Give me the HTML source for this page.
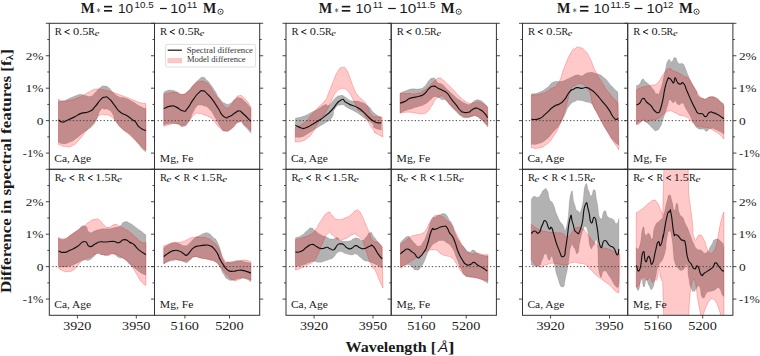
<!DOCTYPE html><html><head><meta charset="utf-8"><style>html,body{margin:0;padding:0;background:#fff;width:760px;height:356px;overflow:hidden}svg{display:block}text{font-family:"Liberation Serif",serif;fill:#1a1a1a}</style></head><body>
<svg width="760" height="356" viewBox="0 0 760 356">
<clipPath id="c000"><rect x="49.3" y="23.3" width="105.2" height="146"/></clipPath>
<g clip-path="url(#c000)">
<path d="M58.48,99.01 C59.97,99.62 59.13,101.15 62.95,100.83 C66.76,100.5 65.27,99.9 69.92,98.04 C74.57,96.18 73.17,96.46 76.89,95.25 C80.61,94.04 78.29,94.32 81.08,94.41 C83.87,94.5 82.01,94.92 85.26,95.53 C88.52,96.13 87.59,97.15 90.84,96.22 C94.1,95.29 91.77,95.76 95.03,92.74 C98.28,89.71 97.35,89.39 100.6,87.16 C103.86,84.93 102,85.81 104.79,86.04 C107.58,86.27 106.18,85.72 108.97,87.85 C111.76,89.99 109.9,89.53 113.16,92.46 C116.41,95.39 114.55,94.69 118.74,96.64 C122.92,98.59 121.06,96.6 125.71,98.32 C130.36,100.04 128.03,99.25 132.68,101.8 C137.33,104.36 135.24,103.66 139.66,105.99 C144.07,108.31 143.84,107.85 145.93,108.78 L145.93,151.84 C144.77,150.91 145,151.84 142.44,149.05 C139.89,146.26 141.52,147.42 138.26,143.47 C135.01,139.52 136.4,140.92 132.68,137.2 C128.96,133.48 130.82,135.34 127.1,132.32 C123.38,129.29 125.24,131.62 121.52,128.13 C117.81,124.64 118.97,126.68 115.95,121.85 C112.92,117.03 114.78,117.55 112.46,113.66 C110.13,109.76 111.53,111.66 108.97,110.17 C106.42,108.68 107.58,109.19 104.79,109.19 C102,109.19 103.39,106.65 100.6,110.17 C97.81,113.69 99.21,114.47 96.42,119.76 C93.63,125.05 95.03,122.78 92.24,126.04 C89.45,129.29 90.84,127.43 88.05,129.53 C85.26,131.62 87.59,129.53 83.87,132.32 C80.15,135.1 81.54,134.64 76.89,137.89 C72.25,141.15 74.57,140.13 69.92,142.08 C65.27,144.03 66.76,143.75 62.95,143.75 C59.13,143.75 59.97,142.64 58.48,142.08 Z" fill="#000" fill-opacity="0.3" stroke="#000" stroke-opacity="0.18" stroke-width="0.6"/>
<path d="M58.48,101.8 C62.3,101.34 63.78,101.57 69.92,100.41 C76.06,99.25 72.25,100.17 76.89,98.32 C81.54,96.46 79.22,97.25 83.87,94.83 C88.52,92.41 87.12,92.92 90.84,91.06 C94.56,89.2 92.24,89.85 95.03,89.25 C97.81,88.65 95.95,89.02 99.21,89.25 C102.46,89.48 100.6,89.02 104.79,89.95 C108.97,90.88 107.11,90.55 111.76,92.04 C116.41,93.53 114.09,92.78 118.74,94.41 C123.38,96.04 121.06,95.15 125.71,96.92 C130.36,98.69 128.03,97.85 132.68,99.71 C137.33,101.57 135.24,101.2 139.66,102.5 C144.07,103.8 143.84,103.24 145.93,103.62 L145.93,149.75 C144.77,148.82 145.47,149.52 142.44,146.96 C139.42,144.4 141.05,146.03 136.87,142.08 C132.68,138.13 134.54,139.29 129.89,135.1 C125.24,130.92 127.57,134.17 122.92,129.53 C118.27,124.88 120.13,125.57 115.95,121.16 C111.76,116.74 114.09,118.37 110.37,116.28 C106.65,114.18 108.51,115.11 104.79,114.88 C101.07,114.65 102.93,113.02 99.21,115.58 C95.49,118.14 97.81,117.67 93.63,122.55 C89.45,127.43 91.31,124.64 86.66,130.22 C82.01,135.8 84.33,134.17 79.68,139.29 C75.03,144.4 77.36,143.15 72.71,145.56 C68.06,147.98 70.48,146.87 65.74,146.54 C60.99,146.22 60.9,145.24 58.48,144.59 Z" fill="#ff0000" fill-opacity="0.21" stroke="#ff0000" stroke-opacity="0.3" stroke-width="0.8"/>
<line x1="52.3" y1="120.63" x2="154.5" y2="120.63" stroke="#444" stroke-width="1" stroke-dasharray="1.3,2.12"/>
<path d="M58.48,119.93 C59.74,120.63 59.83,121.7 62.25,122.03 C64.67,122.35 61.78,122.54 65.74,120.91 C69.69,119.28 68.99,119.65 74.1,117.14 C79.22,114.63 75.96,115.24 81.08,113.38 C86.19,111.52 84.8,113.8 89.45,111.56 C94.1,109.33 91.31,110.64 95.03,106.68 C98.74,102.73 97.35,102.87 100.6,99.71 C103.86,96.55 102,97.57 104.79,97.2 C107.58,96.83 105.72,95.9 108.97,98.59 C112.23,101.29 110.83,100.83 114.55,105.29 C118.27,109.75 115.95,108.5 120.13,111.98 C124.31,115.47 122.92,113.1 127.1,115.75 C131.29,118.4 129.89,117.9 132.68,119.93 C135.47,121.97 133.15,119.35 135.47,121.85 C137.8,124.36 136.17,124.5 139.66,127.43 C143.14,130.36 143.84,129.57 145.93,130.64" fill="none" stroke="#111" stroke-width="1.15" stroke-linejoin="round"/>
</g>
<rect x="49.3" y="23.3" width="105.2" height="146" fill="none" stroke="#333" stroke-width="1"/>
<line x1="49.3" y1="153.08" x2="45.8" y2="153.08" stroke="#333" stroke-width="0.9"/>
<line x1="49.3" y1="136.86" x2="47.3" y2="136.86" stroke="#333" stroke-width="0.9"/>
<line x1="49.3" y1="120.63" x2="45.8" y2="120.63" stroke="#333" stroke-width="0.9"/>
<line x1="49.3" y1="104.41" x2="47.3" y2="104.41" stroke="#333" stroke-width="0.9"/>
<line x1="49.3" y1="88.19" x2="45.8" y2="88.19" stroke="#333" stroke-width="0.9"/>
<line x1="49.3" y1="71.97" x2="47.3" y2="71.97" stroke="#333" stroke-width="0.9"/>
<line x1="49.3" y1="55.74" x2="45.8" y2="55.74" stroke="#333" stroke-width="0.9"/>
<line x1="49.3" y1="39.52" x2="47.3" y2="39.52" stroke="#333" stroke-width="0.9"/>
<line x1="49.3" y1="23.3" x2="45.8" y2="23.3" stroke="#333" stroke-width="0.9"/>
<text x="54.89" y="34.8" font-size="10.6" textLength="7.12" lengthAdjust="spacingAndGlyphs" style="font-family:'Liberation Serif',serif;font-weight:normal;font-style:normal">R</text>
<path d="M69.7,29.5 L64.7,31.85 L69.7,34.2" fill="none" stroke="#1a1a1a" stroke-width="1.0" stroke-linejoin="round"/>
<text x="73.03" y="34.8" font-size="10.6" textLength="15.45" lengthAdjust="spacingAndGlyphs" style="font-family:'Liberation Serif',serif;font-weight:normal;font-style:normal">0.5</text>
<text x="88.21" y="34.8" font-size="10.6" textLength="6.6" lengthAdjust="spacingAndGlyphs" style="font-family:'Liberation Serif',serif;font-weight:normal;font-style:normal">R</text>
<text x="94.68" y="36" font-size="9" textLength="4.66" lengthAdjust="spacingAndGlyphs" style="font-family:'Liberation Serif',serif;font-weight:normal;font-style:italic">e</text>
<text x="54.24" y="162" font-size="10.6" textLength="36.95" lengthAdjust="spacingAndGlyphs" style="font-family:'Liberation Serif',serif;font-weight:normal;font-style:normal">Ca, Age</text>
<clipPath id="c001"><rect x="154.5" y="23.3" width="105.2" height="146"/></clipPath>
<g clip-path="url(#c001)">
<path d="M163.76,92.64 C164.69,92.04 164,91.67 166.55,90.83 C169.11,89.99 168.18,89.9 171.43,90.13 C174.69,90.36 172.83,90.13 176.32,91.53 C179.8,92.92 178.17,94.32 181.89,94.32 C185.61,94.32 183.75,94.55 187.47,91.53 C191.19,88.5 189.33,89.2 193.05,85.25 C196.77,81.3 195.38,82.32 198.63,79.67 C201.88,77.02 200.03,77.07 202.81,77.3 C205.6,77.53 204.21,77.72 207,80.37 C209.79,83.02 208.39,81.53 211.18,85.25 C213.97,88.97 212.58,87.11 215.37,91.53 C218.16,95.94 216.3,94.55 219.55,98.5 C222.81,102.45 221.64,101.75 225.13,103.38 C228.62,105.01 226.76,104.78 230.01,103.38 C233.27,101.99 231.87,101.06 234.89,99.2 C237.91,97.34 235.82,97.1 239.08,97.8 C242.33,98.5 240.7,97.8 244.66,101.29 C248.61,104.78 248.84,105.94 250.93,108.26 L250.93,133.29 C248.84,130.96 248.61,130.03 244.66,126.32 C240.7,122.6 243.73,121.2 239.08,122.13 C234.43,123.06 235.13,126.08 230.71,129.1 C226.29,132.13 229.08,131.66 225.83,131.2 C222.57,130.73 224.43,132.13 220.95,127.71 C217.46,123.29 219.09,123.99 215.37,117.95 C211.65,111.9 213.51,113.53 209.79,109.58 C206.07,105.63 207.46,107.58 204.21,106.09 C200.95,104.6 202.35,105.12 200.03,105.12 C197.7,105.12 199.56,103.67 197.24,106.09 C194.91,108.51 195.84,107.25 193.05,112.37 C190.26,117.48 192.12,116.69 188.87,121.43 C185.61,126.18 187.01,125.66 183.29,126.59 C179.57,127.52 181.89,125.25 177.71,124.22 C173.53,123.2 175.39,123.29 170.74,123.53 C166.09,123.76 166.09,124.46 163.76,124.92 Z" fill="#000" fill-opacity="0.3" stroke="#000" stroke-opacity="0.18" stroke-width="0.6"/>
<path d="M163.76,94.32 C166.09,93.76 166.55,93.2 170.74,92.64 C174.92,92.08 172.13,92.08 176.32,92.64 C180.5,93.2 179.1,94.92 183.29,94.32 C187.47,93.71 185.15,94.08 188.87,90.83 C192.59,87.57 190.73,87.67 194.45,84.55 C198.17,81.44 196.31,82.18 200.03,81.48 C203.74,80.79 202.35,80.97 205.6,82.46 C208.86,83.95 207,82.46 209.79,85.95 C212.58,89.43 210.72,88.27 213.97,92.92 C217.23,97.57 215.6,95.01 219.55,99.89 C223.5,104.78 222.34,105.47 225.83,107.56 C229.31,109.66 226.99,108.73 230.01,106.17 C233.03,103.61 231.87,103.38 234.89,99.89 C237.91,96.41 235.82,96.17 239.08,95.71 C242.33,95.25 240.7,94.78 244.66,98.5 C248.61,102.22 248.84,104.08 250.93,106.87 L250.93,130.5 C248.84,128.64 248.61,127.94 244.66,124.92 C240.7,121.9 243.26,120.27 239.08,121.43 C234.89,122.6 236.75,125.29 232.1,128.41 C227.45,131.52 229.31,131.01 225.13,130.78 C220.95,130.55 223.27,131.06 219.55,127.71 C215.83,124.36 217.23,124.22 213.97,120.74 C210.72,117.25 213.04,119.2 209.79,117.25 C206.53,115.3 207.7,116.13 204.21,114.88 C200.72,113.62 202.58,113.62 199.33,113.48 C196.07,113.34 197.93,112.04 194.45,114.46 C190.96,116.88 192.59,117.25 188.87,120.74 C185.15,124.22 187.47,123.99 183.29,124.92 C179.1,125.85 180.96,123.62 176.32,123.53 C171.67,123.43 173.53,123.71 169.34,124.64 C165.16,125.57 165.62,125.76 163.76,126.32 Z" fill="#ff0000" fill-opacity="0.21" stroke="#ff0000" stroke-opacity="0.3" stroke-width="0.8"/>
<line x1="157.5" y1="120.63" x2="259.7" y2="120.63" stroke="#444" stroke-width="1" stroke-dasharray="1.3,2.12"/>
<path d="M163.76,108.54 C166.09,107.75 166.55,106.64 170.74,106.17 C174.92,105.71 172.13,105.52 176.32,107.15 C180.5,108.77 179.57,110.68 183.29,111.05 C187.01,111.42 184.22,111.98 187.47,108.26 C190.73,104.54 189.33,105.01 193.05,99.89 C196.77,94.78 195.38,95.94 198.63,92.92 C201.88,89.9 200.03,90.6 202.81,90.83 C205.6,91.06 203.74,90.6 207,93.62 C210.25,96.64 208.86,95.01 212.58,99.89 C216.3,104.78 214.44,102.71 218.16,108.26 C221.88,113.81 220.02,113.79 223.74,116.55 C227.45,119.32 225.59,117.71 229.31,116.55 C233.03,115.39 231.64,114.93 234.89,113.07 C238.15,111.21 236.29,110.74 239.08,110.97 C241.87,111.21 239.31,110.28 243.26,113.76 C247.21,117.25 248.37,118.88 250.93,121.43" fill="none" stroke="#111" stroke-width="1.15" stroke-linejoin="round"/>
</g>
<rect x="154.5" y="23.3" width="105.2" height="146" fill="none" stroke="#333" stroke-width="1"/>
<line x1="154.5" y1="153.08" x2="151" y2="153.08" stroke="#333" stroke-width="0.9"/>
<line x1="154.5" y1="136.86" x2="152.5" y2="136.86" stroke="#333" stroke-width="0.9"/>
<line x1="154.5" y1="120.63" x2="151" y2="120.63" stroke="#333" stroke-width="0.9"/>
<line x1="154.5" y1="104.41" x2="152.5" y2="104.41" stroke="#333" stroke-width="0.9"/>
<line x1="154.5" y1="88.19" x2="151" y2="88.19" stroke="#333" stroke-width="0.9"/>
<line x1="154.5" y1="71.97" x2="152.5" y2="71.97" stroke="#333" stroke-width="0.9"/>
<line x1="154.5" y1="55.74" x2="151" y2="55.74" stroke="#333" stroke-width="0.9"/>
<line x1="154.5" y1="39.52" x2="152.5" y2="39.52" stroke="#333" stroke-width="0.9"/>
<line x1="154.5" y1="23.3" x2="151" y2="23.3" stroke="#333" stroke-width="0.9"/>
<line x1="259.7" y1="153.08" x2="263.2" y2="153.08" stroke="#333" stroke-width="0.9"/>
<line x1="259.7" y1="136.86" x2="261.7" y2="136.86" stroke="#333" stroke-width="0.9"/>
<line x1="259.7" y1="120.63" x2="263.2" y2="120.63" stroke="#333" stroke-width="0.9"/>
<line x1="259.7" y1="104.41" x2="261.7" y2="104.41" stroke="#333" stroke-width="0.9"/>
<line x1="259.7" y1="88.19" x2="263.2" y2="88.19" stroke="#333" stroke-width="0.9"/>
<line x1="259.7" y1="71.97" x2="261.7" y2="71.97" stroke="#333" stroke-width="0.9"/>
<line x1="259.7" y1="55.74" x2="263.2" y2="55.74" stroke="#333" stroke-width="0.9"/>
<line x1="259.7" y1="39.52" x2="261.7" y2="39.52" stroke="#333" stroke-width="0.9"/>
<line x1="259.7" y1="23.3" x2="263.2" y2="23.3" stroke="#333" stroke-width="0.9"/>
<text x="160.09" y="34.8" font-size="10.6" textLength="7.12" lengthAdjust="spacingAndGlyphs" style="font-family:'Liberation Serif',serif;font-weight:normal;font-style:normal">R</text>
<path d="M174.9,29.5 L169.9,31.85 L174.9,34.2" fill="none" stroke="#1a1a1a" stroke-width="1.0" stroke-linejoin="round"/>
<text x="178.23" y="34.8" font-size="10.6" textLength="15.45" lengthAdjust="spacingAndGlyphs" style="font-family:'Liberation Serif',serif;font-weight:normal;font-style:normal">0.5</text>
<text x="193.41" y="34.8" font-size="10.6" textLength="6.6" lengthAdjust="spacingAndGlyphs" style="font-family:'Liberation Serif',serif;font-weight:normal;font-style:normal">R</text>
<text x="199.88" y="36" font-size="9" textLength="4.66" lengthAdjust="spacingAndGlyphs" style="font-family:'Liberation Serif',serif;font-weight:normal;font-style:italic">e</text>
<text x="159.86" y="162" font-size="10.6" textLength="33.64" lengthAdjust="spacingAndGlyphs" style="font-family:'Liberation Serif',serif;font-weight:normal;font-style:normal">Mg, Fe</text>
<clipPath id="c010"><rect x="49.3" y="169.3" width="105.2" height="146"/></clipPath>
<g clip-path="url(#c010)">
<path d="M58.48,238.47 C60.44,238.71 60.53,240.1 64.34,239.17 C68.15,238.24 65.74,238.47 69.92,235.68 C74.1,232.89 72.01,234.06 76.89,230.8 C81.78,227.55 80.38,225.46 84.56,225.92 C88.75,226.39 85.96,230.57 89.45,232.2 C92.93,233.82 91.77,231.73 95.03,230.8 C98.28,229.87 95.95,230.1 99.21,229.41 C102.46,228.71 101.07,228.94 104.79,228.71 C108.51,228.48 106.65,229.17 110.37,228.71 C114.09,228.25 112.69,228.25 115.95,227.32 C119.2,226.39 117.34,227.69 120.13,225.92 C122.92,224.15 121.06,222.95 124.31,222.02 C127.57,221.09 126.64,221.83 129.89,223.13 C133.15,224.43 130.82,223.6 134.08,225.92 C137.33,228.25 135.7,227.08 139.66,230.1 C143.61,233.13 143.84,233.36 145.93,234.99 L145.93,274.99 C144.3,274.29 144.54,274.99 141.05,272.89 C137.56,270.8 139.19,271.5 135.47,268.71 C131.75,265.92 133.61,267.78 129.89,264.53 C126.17,261.27 128.03,261.27 124.31,258.95 C120.59,256.62 122.45,259.18 118.74,257.55 C115.02,255.93 116.88,254.9 113.16,254.07 C109.44,253.23 111.3,254.81 107.58,255.04 C103.86,255.27 105.25,255.32 102,254.76 C98.74,254.21 100.6,252.67 97.81,253.37 C95.03,254.07 96.65,254.53 93.63,256.85 C90.61,259.18 92,259.27 88.75,260.34 C85.49,261.41 87.82,259.13 83.87,260.06 C79.92,260.99 81.54,261.18 76.89,263.13 C72.25,265.08 74.57,264.62 69.92,265.92 C65.27,267.22 66.76,267.04 62.95,267.04 C59.13,267.04 59.97,266.29 58.48,265.92 Z" fill="#000" fill-opacity="0.3" stroke="#000" stroke-opacity="0.18" stroke-width="0.6"/>
<path d="M58.48,237.5 C60.44,237.91 60.53,239.45 64.34,238.75 C68.15,238.05 65.74,238.05 69.92,235.4 C74.1,232.75 72.01,234.06 76.89,230.8 C81.78,227.55 80.38,228.66 84.56,225.64 C88.75,222.62 85.96,223.83 89.45,221.74 C92.93,219.64 91.77,219.92 95.03,219.37 C98.28,218.81 95.95,217.97 99.21,220.06 C102.46,222.15 101.53,223.22 104.79,225.64 C108.04,228.06 105.72,227.69 108.97,227.32 C112.23,226.94 111.3,224.99 114.55,224.53 C117.81,224.06 115.48,224.53 118.74,225.92 C121.99,227.32 120.59,226.62 124.31,228.71 C128.03,230.8 126.17,229.41 129.89,232.2 C133.61,234.99 131.75,233.82 135.47,237.08 C139.19,240.33 137.56,240.1 141.05,241.96 C144.54,243.82 144.3,242.42 145.93,242.66 L145.93,285.45 C144.3,284.05 144.54,285.68 141.05,281.26 C137.56,276.85 139.19,278.24 135.47,272.2 C131.75,266.15 133.61,267.55 129.89,263.13 C126.17,258.71 128.03,261.5 124.31,258.95 C120.59,256.39 122.45,257.23 118.74,255.46 C115.02,253.69 116.88,253.65 113.16,253.65 C109.44,253.65 111.3,255.18 107.58,255.46 C103.86,255.74 105.72,255.09 102,254.48 C98.28,253.88 100.14,252.86 96.42,253.65 C92.7,254.44 94.56,255.09 90.84,256.85 C87.12,258.62 88.98,256.85 85.26,258.95 C81.54,261.04 83.4,259.64 79.68,263.13 C75.96,266.62 77.82,266.62 74.1,269.41 C70.39,272.2 72.25,271.03 68.53,271.5 C64.81,271.96 66.29,271.96 62.95,270.8 C59.6,269.64 59.97,268.94 58.48,268.01 Z" fill="#ff0000" fill-opacity="0.21" stroke="#ff0000" stroke-opacity="0.3" stroke-width="0.8"/>
<line x1="52.3" y1="266.63" x2="154.5" y2="266.63" stroke="#444" stroke-width="1" stroke-dasharray="1.3,2.12"/>
<path d="M58.48,251.03 C60.44,251.49 60.53,252.65 64.34,252.42 C68.15,252.19 65.74,252.19 69.92,250.33 C74.1,248.47 72.01,249.77 76.89,246.84 C81.78,243.91 80.38,241.68 84.56,241.54 C88.75,241.4 85.96,245.59 89.45,246.42 C92.93,247.26 91.77,245.54 95.03,244.05 C98.28,242.56 95.95,242.66 99.21,241.96 C102.46,241.26 101.07,242.1 104.79,241.96 C108.51,241.82 107.11,241.68 110.37,241.54 C113.62,241.4 111.76,241.17 114.55,241.54 C117.34,241.91 115.48,243.31 118.74,242.66 C121.99,242.01 120.59,239.68 124.31,239.59 C128.03,239.5 126.64,240.66 129.89,242.38 C133.15,244.1 131.29,242.42 134.08,244.75 C136.87,247.07 134.31,246.01 138.26,249.35 C142.21,252.69 143.37,252.96 145.93,254.76" fill="none" stroke="#111" stroke-width="1.15" stroke-linejoin="round"/>
</g>
<rect x="49.3" y="169.3" width="105.2" height="146" fill="none" stroke="#333" stroke-width="1"/>
<line x1="49.3" y1="299.08" x2="45.8" y2="299.08" stroke="#333" stroke-width="0.9"/>
<line x1="49.3" y1="282.86" x2="47.3" y2="282.86" stroke="#333" stroke-width="0.9"/>
<line x1="49.3" y1="266.63" x2="45.8" y2="266.63" stroke="#333" stroke-width="0.9"/>
<line x1="49.3" y1="250.41" x2="47.3" y2="250.41" stroke="#333" stroke-width="0.9"/>
<line x1="49.3" y1="234.19" x2="45.8" y2="234.19" stroke="#333" stroke-width="0.9"/>
<line x1="49.3" y1="217.97" x2="47.3" y2="217.97" stroke="#333" stroke-width="0.9"/>
<line x1="49.3" y1="201.74" x2="45.8" y2="201.74" stroke="#333" stroke-width="0.9"/>
<line x1="49.3" y1="185.52" x2="47.3" y2="185.52" stroke="#333" stroke-width="0.9"/>
<line x1="49.3" y1="169.3" x2="45.8" y2="169.3" stroke="#333" stroke-width="0.9"/>
<line x1="77.4" y1="315.3" x2="77.4" y2="318.5" stroke="#333" stroke-width="0.9"/>
<text x="63.23" y="329.6" font-size="11.5" textLength="28.21" lengthAdjust="spacingAndGlyphs" style="font-family:'Liberation Serif',serif;font-weight:normal;font-style:normal">3920</text>
<line x1="136.3" y1="315.3" x2="136.3" y2="318.5" stroke="#333" stroke-width="0.9"/>
<text x="122.13" y="329.6" font-size="11.5" textLength="28.21" lengthAdjust="spacingAndGlyphs" style="font-family:'Liberation Serif',serif;font-weight:normal;font-style:normal">3950</text>
<text x="54.8" y="180.8" font-size="10.6" textLength="7.02" lengthAdjust="spacingAndGlyphs" style="font-family:'Liberation Serif',serif;font-weight:normal;font-style:normal">R</text>
<text x="61.36" y="182" font-size="9" textLength="4.89" lengthAdjust="spacingAndGlyphs" style="font-family:'Liberation Serif',serif;font-weight:normal;font-style:italic">e</text>
<path d="M74.3,175.5 L69.7,177.85 L74.3,180.2" fill="none" stroke="#1a1a1a" stroke-width="1.0" stroke-linejoin="round"/>
<text x="78.21" y="180.8" font-size="10.6" textLength="6.6" lengthAdjust="spacingAndGlyphs" style="font-family:'Liberation Serif',serif;font-weight:normal;font-style:normal">R</text>
<path d="M92.7,175.5 L88.1,177.85 L92.7,180.2" fill="none" stroke="#1a1a1a" stroke-width="1.0" stroke-linejoin="round"/>
<text x="95.34" y="180.8" font-size="10.6" textLength="15.14" lengthAdjust="spacingAndGlyphs" style="font-family:'Liberation Serif',serif;font-weight:normal;font-style:normal">1.5</text>
<text x="110.71" y="180.8" font-size="10.6" textLength="6.7" lengthAdjust="spacingAndGlyphs" style="font-family:'Liberation Serif',serif;font-weight:normal;font-style:normal">R</text>
<text x="117.05" y="182" font-size="9" textLength="5" lengthAdjust="spacingAndGlyphs" style="font-family:'Liberation Serif',serif;font-weight:normal;font-style:italic">e</text>
<text x="54.24" y="308" font-size="10.6" textLength="36.95" lengthAdjust="spacingAndGlyphs" style="font-family:'Liberation Serif',serif;font-weight:normal;font-style:normal">Ca, Age</text>
<clipPath id="c011"><rect x="154.5" y="169.3" width="105.2" height="146"/></clipPath>
<g clip-path="url(#c011)">
<path d="M163.76,247.89 C165.16,246.96 164.69,246.73 167.95,245.1 C171.2,243.48 169.81,243.48 173.53,243.01 C177.25,242.55 175.39,242.78 179.1,243.71 C182.82,244.64 181.43,245.8 184.68,245.8 C187.94,245.8 185.61,246.27 188.87,243.71 C192.12,241.15 190.73,240.92 194.45,238.13 C198.17,235.34 196.77,236.97 200.03,235.34 C203.28,233.71 201.42,233.95 204.21,233.25 C207,232.55 205.6,232.09 208.39,233.25 C211.18,234.41 209.32,233.25 212.58,236.74 C215.83,240.22 214.44,235.8 218.16,243.71 C221.88,251.62 220.48,254.41 223.74,260.46 C226.99,266.51 224.66,261.62 227.92,261.85 C231.17,262.09 229.78,261.62 233.5,261.16 C237.22,260.69 235.36,260.23 239.08,260.46 C242.8,260.69 240.7,260.93 244.66,261.85 C248.61,262.78 248.84,262.78 250.93,263.25 L250.93,281.8 C248.84,280.73 248.61,279.66 244.66,278.59 C240.7,277.52 242.8,278.13 239.08,278.59 C235.36,279.06 237.22,279.75 233.5,279.99 C229.78,280.22 231.17,281.15 227.92,279.29 C224.66,277.43 226.52,278.59 223.74,274.41 C220.95,270.22 222.34,270.92 219.55,266.74 C216.76,262.55 218.62,264.09 215.37,261.85 C212.11,259.62 214.44,261.2 209.79,260.04 C205.14,258.88 206.53,259.39 201.42,258.37 C196.31,257.35 198.17,256.51 194.45,256.97 C190.73,257.44 192.82,257.81 190.26,259.76 C187.71,261.72 188.87,262.13 186.78,262.83 C184.68,263.53 186.54,262.65 183.99,261.85 C181.43,261.06 182.59,260.93 179.1,260.46 C175.62,260 177.25,260 173.53,260.46 C169.81,260.93 171.2,260.69 167.95,261.85 C164.69,263.02 165.16,263.25 163.76,263.95 Z" fill="#000" fill-opacity="0.3" stroke="#000" stroke-opacity="0.18" stroke-width="0.6"/>
<path d="M163.76,245.8 C165.16,245.34 164.69,245.57 167.95,244.41 C171.2,243.25 169.81,243.01 173.53,242.32 C177.25,241.62 175.39,242.78 179.1,242.32 C182.82,241.85 180.96,242.32 184.68,240.92 C188.4,239.53 187.01,239.29 190.26,238.13 C193.52,236.97 190.73,237.67 194.45,237.43 C198.17,237.2 197.24,237.2 201.42,237.43 C205.6,237.67 203.28,236.74 207,238.13 C210.72,239.53 208.86,238.36 212.58,241.62 C216.3,244.87 214.44,242.08 218.16,247.89 C221.88,253.71 220.48,254.18 223.74,259.07 C226.99,263.95 224.66,261.39 227.92,262.55 C231.17,263.71 229.78,263.02 233.5,262.55 C237.22,262.09 235.36,261.99 239.08,261.16 C242.8,260.32 240.7,259.81 244.66,260.04 C248.61,260.27 248.84,261.25 250.93,261.85 L250.93,279.99 C248.84,279.29 248.61,278.13 244.66,277.89 C240.7,277.66 242.8,278.45 239.08,279.29 C235.36,280.13 237.22,281.57 233.5,280.4 C229.78,279.24 231.17,278.96 227.92,275.8 C224.66,272.64 226.52,274.41 223.74,270.92 C220.95,267.43 222.34,268.36 219.55,265.34 C216.76,262.32 218.62,263.71 215.37,261.85 C212.11,260 214.44,261.02 209.79,259.76 C205.14,258.51 206.53,259.11 201.42,258.09 C196.31,257.07 198.17,256.37 194.45,256.69 C190.73,257.02 193.52,257.67 190.26,259.07 C187.01,260.46 188.4,260.55 184.68,260.88 C180.96,261.2 182.82,260.65 179.1,260.04 C175.39,259.44 177.25,258.69 173.53,259.07 C169.81,259.44 171.2,259.53 167.95,261.16 C164.69,262.78 165.16,263.02 163.76,263.95 Z" fill="#ff0000" fill-opacity="0.21" stroke="#ff0000" stroke-opacity="0.3" stroke-width="0.8"/>
<line x1="157.5" y1="266.63" x2="259.7" y2="266.63" stroke="#444" stroke-width="1" stroke-dasharray="1.3,2.12"/>
<path d="M163.76,256.54 C165.16,255.52 164.69,255.43 167.95,253.47 C171.2,251.52 169.81,251.52 173.53,250.68 C177.25,249.85 175.85,250.03 179.1,250.96 C182.36,251.89 180.73,252.08 183.29,253.47 C185.85,254.87 184.45,255.84 186.78,255.15 C189.1,254.45 187.71,254.03 190.26,251.38 C192.82,248.73 191.19,249.06 194.45,247.2 C197.7,245.34 196.31,246.5 200.03,245.8 C203.74,245.1 202.35,245.1 205.6,245.1 C208.86,245.1 207,244.64 209.79,245.8 C212.58,246.96 211.18,245.57 213.97,248.59 C216.76,251.61 216.3,251.61 218.16,254.87 C220.02,258.13 217.69,254.88 219.55,258.37 C221.41,261.86 220.95,261.39 223.74,265.34 C226.52,269.29 224.66,268.27 227.92,270.22 C231.17,272.18 229.78,271.2 233.5,271.2 C237.22,271.2 235.36,270.32 239.08,270.22 C242.8,270.13 240.7,269.99 244.66,270.92 C248.61,271.85 248.84,272.32 250.93,273.01" fill="none" stroke="#111" stroke-width="1.15" stroke-linejoin="round"/>
</g>
<rect x="154.5" y="169.3" width="105.2" height="146" fill="none" stroke="#333" stroke-width="1"/>
<line x1="154.5" y1="299.08" x2="151" y2="299.08" stroke="#333" stroke-width="0.9"/>
<line x1="154.5" y1="282.86" x2="152.5" y2="282.86" stroke="#333" stroke-width="0.9"/>
<line x1="154.5" y1="266.63" x2="151" y2="266.63" stroke="#333" stroke-width="0.9"/>
<line x1="154.5" y1="250.41" x2="152.5" y2="250.41" stroke="#333" stroke-width="0.9"/>
<line x1="154.5" y1="234.19" x2="151" y2="234.19" stroke="#333" stroke-width="0.9"/>
<line x1="154.5" y1="217.97" x2="152.5" y2="217.97" stroke="#333" stroke-width="0.9"/>
<line x1="154.5" y1="201.74" x2="151" y2="201.74" stroke="#333" stroke-width="0.9"/>
<line x1="154.5" y1="185.52" x2="152.5" y2="185.52" stroke="#333" stroke-width="0.9"/>
<line x1="154.5" y1="169.3" x2="151" y2="169.3" stroke="#333" stroke-width="0.9"/>
<line x1="259.7" y1="299.08" x2="263.2" y2="299.08" stroke="#333" stroke-width="0.9"/>
<line x1="259.7" y1="282.86" x2="261.7" y2="282.86" stroke="#333" stroke-width="0.9"/>
<line x1="259.7" y1="266.63" x2="263.2" y2="266.63" stroke="#333" stroke-width="0.9"/>
<line x1="259.7" y1="250.41" x2="261.7" y2="250.41" stroke="#333" stroke-width="0.9"/>
<line x1="259.7" y1="234.19" x2="263.2" y2="234.19" stroke="#333" stroke-width="0.9"/>
<line x1="259.7" y1="217.97" x2="261.7" y2="217.97" stroke="#333" stroke-width="0.9"/>
<line x1="259.7" y1="201.74" x2="263.2" y2="201.74" stroke="#333" stroke-width="0.9"/>
<line x1="259.7" y1="185.52" x2="261.7" y2="185.52" stroke="#333" stroke-width="0.9"/>
<line x1="259.7" y1="169.3" x2="263.2" y2="169.3" stroke="#333" stroke-width="0.9"/>
<line x1="184.9" y1="315.3" x2="184.9" y2="318.5" stroke="#333" stroke-width="0.9"/>
<text x="170.58" y="329.6" font-size="11.5" textLength="28.36" lengthAdjust="spacingAndGlyphs" style="font-family:'Liberation Serif',serif;font-weight:normal;font-style:normal">5160</text>
<line x1="229.5" y1="315.3" x2="229.5" y2="318.5" stroke="#333" stroke-width="0.9"/>
<text x="215.18" y="329.6" font-size="11.5" textLength="28.36" lengthAdjust="spacingAndGlyphs" style="font-family:'Liberation Serif',serif;font-weight:normal;font-style:normal">5200</text>
<text x="160" y="180.8" font-size="10.6" textLength="7.02" lengthAdjust="spacingAndGlyphs" style="font-family:'Liberation Serif',serif;font-weight:normal;font-style:normal">R</text>
<text x="166.56" y="182" font-size="9" textLength="4.89" lengthAdjust="spacingAndGlyphs" style="font-family:'Liberation Serif',serif;font-weight:normal;font-style:italic">e</text>
<path d="M179.5,175.5 L174.9,177.85 L179.5,180.2" fill="none" stroke="#1a1a1a" stroke-width="1.0" stroke-linejoin="round"/>
<text x="183.41" y="180.8" font-size="10.6" textLength="6.6" lengthAdjust="spacingAndGlyphs" style="font-family:'Liberation Serif',serif;font-weight:normal;font-style:normal">R</text>
<path d="M197.9,175.5 L193.3,177.85 L197.9,180.2" fill="none" stroke="#1a1a1a" stroke-width="1.0" stroke-linejoin="round"/>
<text x="200.54" y="180.8" font-size="10.6" textLength="15.14" lengthAdjust="spacingAndGlyphs" style="font-family:'Liberation Serif',serif;font-weight:normal;font-style:normal">1.5</text>
<text x="215.91" y="180.8" font-size="10.6" textLength="6.7" lengthAdjust="spacingAndGlyphs" style="font-family:'Liberation Serif',serif;font-weight:normal;font-style:normal">R</text>
<text x="222.25" y="182" font-size="9" textLength="5" lengthAdjust="spacingAndGlyphs" style="font-family:'Liberation Serif',serif;font-weight:normal;font-style:italic">e</text>
<text x="159.86" y="308" font-size="10.6" textLength="33.64" lengthAdjust="spacingAndGlyphs" style="font-family:'Liberation Serif',serif;font-weight:normal;font-style:normal">Mg, Fe</text>
<clipPath id="c100"><rect x="286" y="23.3" width="105.2" height="146"/></clipPath>
<g clip-path="url(#c100)">
<path d="M295.33,118.14 C298.23,117.44 298.79,117.91 304.03,116.04 C309.26,114.17 306.36,114.87 311.04,112.53 C315.71,110.19 313.38,111.6 318.05,109.03 C322.73,106.45 321.41,106.06 325.06,104.82 C328.71,103.58 325.72,107.41 329,105.3 C332.28,103.19 331.13,101.73 334.9,98.5 C338.67,95.27 336.93,96.13 340.3,95.6 C343.67,95.07 341.77,95.37 345,96.9 C348.23,98.43 346.63,98.8 350,100.2 C353.37,101.6 351.7,100.53 355.1,101.1 C358.5,101.67 355.9,100.27 360.2,101.9 C364.5,103.53 363.3,102.3 368,106 C372.7,109.7 369.87,109.23 374.3,113 C378.73,116.77 378.97,115.87 381.3,117.3 L381.28,129.88 C378.95,129.18 377.21,129.83 374.27,127.78 C371.33,125.72 375.4,126.69 372.47,123.71 C369.55,120.73 369.68,121.85 365.5,118.83 C361.31,115.81 363.64,117.2 359.92,114.64 C356.2,112.09 358.52,113.48 354.34,111.16 C350.16,108.83 351.78,109.76 347.37,107.67 C342.95,105.58 345.27,104.42 341.09,104.88 C336.91,105.35 337.82,104.88 334.81,109.07 C331.81,113.25 335.33,112.78 332.08,117.44 C328.83,122.1 329.74,119.78 325.06,123.05 C320.39,126.32 322.26,124.69 318.05,127.26 C313.84,129.83 316.18,128.43 312.44,130.76 C308.7,133.1 310.57,132.17 306.83,134.27 C303.09,136.37 305.05,136.14 301.22,137.08 C297.39,138.01 297.29,137.08 295.33,137.08 Z" fill="#000" fill-opacity="0.3" stroke="#000" stroke-opacity="0.18" stroke-width="0.6"/>
<path d="M295.33,127.26 C298.23,125.86 298.79,127.02 304.03,123.05 C309.26,119.08 306.36,120.48 311.04,115.34 C315.71,110.19 313.38,112.53 318.05,107.62 C322.73,102.71 321.87,104.68 325.06,100.61 C328.26,96.54 325.1,101.35 327.64,95.4 C330.19,89.45 329.33,90.76 332.7,82.76 C336.07,74.75 334.6,76.43 337.76,71.38 C340.92,66.32 339.23,68.01 342.18,67.59 C345.13,67.16 343.87,66.32 346.61,70.11 C349.34,73.91 347.87,72.64 350.4,78.96 C352.93,85.28 351.66,83.6 354.19,89.08 C356.72,94.56 355.03,91.61 357.98,95.4 C360.93,99.19 360.09,97.25 363.04,100.46 C365.99,103.66 364.02,100.25 366.83,105.01 C369.64,109.77 368.05,110.84 371.47,114.73 C374.88,118.63 373.57,115.95 377.08,116.7 C380.58,117.45 380.35,116.88 381.98,116.98 L382.93,136.96 C380.37,135.56 378.15,134.67 375.26,132.78 C372.37,130.88 376.47,134.59 374.27,131.28 C372.07,127.98 372.4,128.95 368.66,122.87 C364.92,116.79 366.27,117.01 363.05,113.05 C359.83,109.09 361.18,113.02 359,111 C356.82,108.98 358.07,110.03 356.5,107 C354.93,103.97 355.9,105.27 354.3,101.9 C352.7,98.53 353.4,100 351.7,96.9 C350,93.8 351.17,95.13 349.2,92.6 C347.23,90.07 347.9,90.7 345.8,89.3 C343.7,87.9 344.87,88.47 342.9,88.4 C340.93,88.33 342.03,87.97 339.9,89.1 C337.77,90.23 338.73,89.2 336.5,91.8 C334.27,94.4 335.7,92.17 333.2,96.9 C330.7,101.63 331.71,100.56 329,106 C326.29,111.44 328.71,107.55 325.06,113.23 C321.41,118.92 322.26,116.51 318.05,123.05 C313.84,129.6 316.18,127.73 312.44,132.87 C308.7,138.01 310.57,135.67 306.83,138.48 C303.09,141.28 305.05,140.11 301.22,141.28 C297.39,142.45 297.29,141.75 295.33,141.98 Z" fill="#ff0000" fill-opacity="0.21" stroke="#ff0000" stroke-opacity="0.3" stroke-width="0.8"/>
<line x1="289" y1="120.63" x2="391.2" y2="120.63" stroke="#444" stroke-width="1" stroke-dasharray="1.3,2.12"/>
<path d="M295.33,125.15 C297.29,126.09 297.85,127.02 301.22,127.96 C304.59,128.89 302.16,128.89 305.43,127.96 C308.7,127.02 306.83,127.49 311.04,125.15 C315.25,122.82 313.38,123.99 318.05,120.95 C322.73,117.91 320.39,119.78 325.06,116.04 C329.74,112.3 326.89,115.02 332.08,109.73 C337.26,104.43 335.9,102.55 340.61,100.15 C345.32,97.75 342.48,100.8 346.22,102.53 C349.96,104.26 348.09,103.7 351.83,105.34 C355.57,106.97 353.7,105.34 357.44,107.44 C361.18,109.54 359.31,108.38 363.05,111.65 C366.79,114.92 364.92,113.99 368.66,117.26 C372.4,120.53 371,119.6 374.27,121.47 C377.54,123.34 376.14,122.49 378.48,122.87 C380.82,123.24 380.35,122.68 381.28,122.59" fill="none" stroke="#111" stroke-width="1.15" stroke-linejoin="round"/>
</g>
<rect x="286" y="23.3" width="105.2" height="146" fill="none" stroke="#333" stroke-width="1"/>
<line x1="286" y1="153.08" x2="282.5" y2="153.08" stroke="#333" stroke-width="0.9"/>
<line x1="286" y1="136.86" x2="284" y2="136.86" stroke="#333" stroke-width="0.9"/>
<line x1="286" y1="120.63" x2="282.5" y2="120.63" stroke="#333" stroke-width="0.9"/>
<line x1="286" y1="104.41" x2="284" y2="104.41" stroke="#333" stroke-width="0.9"/>
<line x1="286" y1="88.19" x2="282.5" y2="88.19" stroke="#333" stroke-width="0.9"/>
<line x1="286" y1="71.97" x2="284" y2="71.97" stroke="#333" stroke-width="0.9"/>
<line x1="286" y1="55.74" x2="282.5" y2="55.74" stroke="#333" stroke-width="0.9"/>
<line x1="286" y1="39.52" x2="284" y2="39.52" stroke="#333" stroke-width="0.9"/>
<line x1="286" y1="23.3" x2="282.5" y2="23.3" stroke="#333" stroke-width="0.9"/>
<text x="291.59" y="34.8" font-size="10.6" textLength="7.12" lengthAdjust="spacingAndGlyphs" style="font-family:'Liberation Serif',serif;font-weight:normal;font-style:normal">R</text>
<path d="M306.4,29.5 L301.4,31.85 L306.4,34.2" fill="none" stroke="#1a1a1a" stroke-width="1.0" stroke-linejoin="round"/>
<text x="309.73" y="34.8" font-size="10.6" textLength="15.45" lengthAdjust="spacingAndGlyphs" style="font-family:'Liberation Serif',serif;font-weight:normal;font-style:normal">0.5</text>
<text x="324.91" y="34.8" font-size="10.6" textLength="6.6" lengthAdjust="spacingAndGlyphs" style="font-family:'Liberation Serif',serif;font-weight:normal;font-style:normal">R</text>
<text x="331.38" y="36" font-size="9" textLength="4.66" lengthAdjust="spacingAndGlyphs" style="font-family:'Liberation Serif',serif;font-weight:normal;font-style:italic">e</text>
<text x="290.94" y="162" font-size="10.6" textLength="36.95" lengthAdjust="spacingAndGlyphs" style="font-family:'Liberation Serif',serif;font-weight:normal;font-style:normal">Ca, Age</text>
<clipPath id="c101"><rect x="391.2" y="23.3" width="105.2" height="146"/></clipPath>
<g clip-path="url(#c101)">
<path d="M400.12,92.89 C402.46,91.99 403,91.54 407.13,90.19 C411.26,88.85 408.48,89.3 412.52,88.85 C416.56,88.4 415.22,89.74 419.26,88.85 C423.3,87.95 421.5,88.85 424.65,86.15 C427.79,83.46 426,83.46 428.69,80.76 C431.39,78.06 430.49,78.51 432.74,78.06 C434.98,77.62 433.63,77.84 435.43,79.41 C437.23,80.98 435.73,81.01 438.13,82.78 C440.52,84.56 439.25,82.22 442.62,84.74 C445.99,87.27 444.49,86.8 448.24,90.36 C451.98,93.92 450.11,92.23 453.85,95.42 C457.6,98.6 455.73,97.29 459.47,99.91 C463.22,102.53 461.72,101.78 465.09,103.28 C468.46,104.78 466.96,104.89 469.58,104.4 C472.21,103.92 470.71,103.32 472.96,101.82 C475.2,100.32 474.08,100.43 476.33,99.91 C478.57,99.39 477.45,99.5 479.7,100.25 C481.94,101 480.82,100.4 483.07,102.16 C485.31,103.92 484.94,103.77 486.44,105.53 C487.94,107.29 487.19,106.8 487.56,107.44 L487.84,127.17 C486.72,125.82 486.95,125.82 484.47,123.13 C482,120.43 483.13,121.33 480.43,119.08 C477.74,116.84 479.08,117.29 476.39,116.39 C473.69,115.49 475.49,115.94 472.35,116.39 C469.2,116.84 470.55,117.74 466.95,117.74 C463.36,117.74 465.16,118.41 461.56,116.39 C457.97,114.37 459.77,115.04 456.17,111.67 C452.58,108.3 454.38,110.1 450.78,106.28 C447.19,102.46 448.26,102.43 445.39,100.22 C442.52,98 444.59,100.5 442.17,99.63 C439.75,98.76 440.82,98.5 438.13,97.61 C435.43,96.71 436.78,96.03 434.08,96.93 C431.39,97.83 433.19,97.83 430.04,100.3 C426.9,102.77 428.24,102.32 424.65,104.35 C421.06,106.37 423.3,105.02 419.26,106.37 C415.22,107.71 417.01,107.04 412.52,108.39 C408.03,109.74 409.91,108.84 405.78,110.41 C401.65,111.98 402.01,112.21 400.12,113.11 Z" fill="#000" fill-opacity="0.3" stroke="#000" stroke-opacity="0.18" stroke-width="0.6"/>
<path d="M400.12,93.56 C402.91,93.56 403,93.56 408.48,93.56 C413.96,93.56 411.17,94.69 416.56,93.56 C421.95,92.44 420.16,92.89 424.65,90.19 C429.14,87.5 426.45,88.85 430.04,85.48 C433.63,82.11 432.29,82.56 435.43,80.09 C438.58,77.62 437.08,78.2 439.47,78.06 C441.87,77.93 439.7,77.46 442.62,79.69 C445.54,81.91 444.49,81.18 448.24,84.74 C451.98,88.3 450.11,86.43 453.85,90.36 C457.6,94.29 455.73,92.98 459.47,96.54 C463.22,100.1 461.72,98.79 465.09,101.03 C468.46,103.28 466.96,102.53 469.58,103.28 C472.21,104.03 470.71,103.66 472.96,103.28 C475.2,102.91 474.08,102.53 476.33,102.16 C478.57,101.78 477.45,101.6 479.7,102.16 C481.94,102.72 480.45,102.23 483.07,103.84 C485.69,105.45 486.06,105.94 487.56,106.99 L487.84,125.15 C486.72,124.03 486.95,124.03 484.47,121.78 C482,119.53 483.13,120.43 480.43,118.41 C477.74,116.39 479.08,116.61 476.39,115.71 C473.69,114.82 475.49,115.27 472.35,115.71 C469.2,116.16 470.55,117.29 466.95,117.06 C463.36,116.84 465.16,117.29 461.56,115.04 C457.97,112.79 459.77,113.69 456.17,110.32 C452.58,106.95 455,109.4 450.78,104.93 C446.56,100.47 447.29,99.6 443.52,96.93 C439.75,94.27 442.17,96.03 439.47,96.93 C436.78,97.83 438.13,96.48 435.43,99.63 C432.74,102.77 434.08,102.32 431.39,106.37 C428.69,110.41 430.49,109.29 427.35,111.76 C424.2,114.23 426,113.33 421.95,113.78 C417.91,114.23 419.71,113.64 415.22,113.11 C410.72,112.57 413.51,112.16 408.48,112.16 C403.45,112.16 402.91,112.79 400.12,113.11 Z" fill="#ff0000" fill-opacity="0.21" stroke="#ff0000" stroke-opacity="0.3" stroke-width="0.8"/>
<line x1="394.2" y1="120.63" x2="496.4" y2="120.63" stroke="#444" stroke-width="1" stroke-dasharray="1.3,2.12"/>
<path d="M400.12,103.27 C402.01,102.5 403,102.41 405.78,100.98 C408.57,99.54 406.23,100.08 408.48,98.95 C410.72,97.83 408.93,98.5 412.52,97.61 C416.11,96.71 415.22,97.61 419.26,96.26 C423.3,94.91 421.5,96.03 424.65,93.56 C427.79,91.09 425.77,91.32 428.69,88.85 C431.61,86.38 430.27,86.38 433.41,86.15 C436.55,85.93 435.21,86.82 438.13,88.17 C441.05,89.52 439.17,88.53 442.17,90.19 C445.17,91.86 443.97,90.12 447.11,93.17 C450.26,96.22 448.61,95.42 451.61,99.35 C454.6,103.28 453.1,101.22 456.1,104.97 C459.1,108.71 457.97,108.15 460.6,110.58 C463.22,113.02 461.34,111.71 463.97,112.27 C466.59,112.83 465.84,113.02 468.46,112.27 C471.08,111.52 469.4,111.41 471.83,110.02 C474.27,108.64 473.14,108.3 475.76,108.11 C478.39,107.93 476.89,107.89 479.7,109.46 C482.51,111.03 481.57,110.13 484.19,112.83 C486.81,115.53 486.44,115.98 487.56,117.55" fill="none" stroke="#111" stroke-width="1.15" stroke-linejoin="round"/>
</g>
<rect x="391.2" y="23.3" width="105.2" height="146" fill="none" stroke="#333" stroke-width="1"/>
<line x1="391.2" y1="153.08" x2="387.7" y2="153.08" stroke="#333" stroke-width="0.9"/>
<line x1="391.2" y1="136.86" x2="389.2" y2="136.86" stroke="#333" stroke-width="0.9"/>
<line x1="391.2" y1="120.63" x2="387.7" y2="120.63" stroke="#333" stroke-width="0.9"/>
<line x1="391.2" y1="104.41" x2="389.2" y2="104.41" stroke="#333" stroke-width="0.9"/>
<line x1="391.2" y1="88.19" x2="387.7" y2="88.19" stroke="#333" stroke-width="0.9"/>
<line x1="391.2" y1="71.97" x2="389.2" y2="71.97" stroke="#333" stroke-width="0.9"/>
<line x1="391.2" y1="55.74" x2="387.7" y2="55.74" stroke="#333" stroke-width="0.9"/>
<line x1="391.2" y1="39.52" x2="389.2" y2="39.52" stroke="#333" stroke-width="0.9"/>
<line x1="391.2" y1="23.3" x2="387.7" y2="23.3" stroke="#333" stroke-width="0.9"/>
<line x1="496.4" y1="153.08" x2="499.9" y2="153.08" stroke="#333" stroke-width="0.9"/>
<line x1="496.4" y1="136.86" x2="498.4" y2="136.86" stroke="#333" stroke-width="0.9"/>
<line x1="496.4" y1="120.63" x2="499.9" y2="120.63" stroke="#333" stroke-width="0.9"/>
<line x1="496.4" y1="104.41" x2="498.4" y2="104.41" stroke="#333" stroke-width="0.9"/>
<line x1="496.4" y1="88.19" x2="499.9" y2="88.19" stroke="#333" stroke-width="0.9"/>
<line x1="496.4" y1="71.97" x2="498.4" y2="71.97" stroke="#333" stroke-width="0.9"/>
<line x1="496.4" y1="55.74" x2="499.9" y2="55.74" stroke="#333" stroke-width="0.9"/>
<line x1="496.4" y1="39.52" x2="498.4" y2="39.52" stroke="#333" stroke-width="0.9"/>
<line x1="496.4" y1="23.3" x2="499.9" y2="23.3" stroke="#333" stroke-width="0.9"/>
<text x="396.79" y="34.8" font-size="10.6" textLength="7.12" lengthAdjust="spacingAndGlyphs" style="font-family:'Liberation Serif',serif;font-weight:normal;font-style:normal">R</text>
<path d="M411.6,29.5 L406.6,31.85 L411.6,34.2" fill="none" stroke="#1a1a1a" stroke-width="1.0" stroke-linejoin="round"/>
<text x="414.93" y="34.8" font-size="10.6" textLength="15.45" lengthAdjust="spacingAndGlyphs" style="font-family:'Liberation Serif',serif;font-weight:normal;font-style:normal">0.5</text>
<text x="430.11" y="34.8" font-size="10.6" textLength="6.6" lengthAdjust="spacingAndGlyphs" style="font-family:'Liberation Serif',serif;font-weight:normal;font-style:normal">R</text>
<text x="436.58" y="36" font-size="9" textLength="4.66" lengthAdjust="spacingAndGlyphs" style="font-family:'Liberation Serif',serif;font-weight:normal;font-style:italic">e</text>
<text x="396.56" y="162" font-size="10.6" textLength="33.64" lengthAdjust="spacingAndGlyphs" style="font-family:'Liberation Serif',serif;font-weight:normal;font-style:normal">Mg, Fe</text>
<clipPath id="c110"><rect x="286" y="169.3" width="105.2" height="146"/></clipPath>
<g clip-path="url(#c110)">
<path d="M295.48,237.66 C297.44,236.96 297.53,237.89 301.34,235.56 C305.15,233.24 303.67,233.24 306.92,230.68 C310.17,228.13 308.32,227.89 311.1,227.89 C313.89,227.89 312.03,228.36 315.29,230.68 C318.54,233.01 317.15,232.78 320.87,234.87 C324.59,236.96 322.73,235.56 326.45,236.96 C330.17,238.35 328.31,238.82 332.03,239.05 C335.74,239.28 334.95,237.2 337.6,237.66 C340.26,238.12 336.21,239.32 340,240.43 C343.79,241.54 344.49,241.55 348.99,240.99 C353.48,240.43 350.49,239.68 353.48,238.74 C356.48,237.81 354.98,237.62 357.98,238.18 C360.97,238.74 359.85,240.61 362.47,240.43 C365.09,240.24 363.22,240.24 365.84,237.62 C368.46,235 367.72,232.94 370.34,232.56 C372.96,232.19 371.09,233.31 373.71,236.49 C376.33,239.68 375.39,238.74 378.2,242.11 C381.01,245.48 380.82,245.11 382.13,246.61 L382.13,267.96 C380.82,267.21 381.01,267.21 378.2,265.71 C375.39,264.21 377.08,264.88 373.71,263.46 C370.34,262.04 371.09,262.37 368.09,261.44 C365.09,260.5 367.34,262.04 364.72,260.65 C362.1,259.27 363.22,259.53 360.22,257.28 C357.23,255.03 358.35,254.66 355.73,253.91 C353.11,253.16 354.61,254.85 352.36,255.03 C350.11,255.22 351.61,255.03 348.99,254.47 C346.37,253.91 346.89,254.22 344.49,253.35 C342.09,252.48 344.08,252.12 341.79,251.85 C339.49,251.59 340.39,250.69 337.6,252.55 C334.81,254.41 336.21,255.11 333.42,257.43 C330.63,259.76 332.03,258.36 329.24,259.53 C326.45,260.69 328.31,259.99 325.05,260.92 C321.8,261.85 323.19,262.08 319.47,262.32 C315.75,262.55 317.15,261.62 313.89,261.62 C310.64,261.62 313.43,261.15 309.71,262.32 C305.99,263.48 307.48,263.71 302.74,265.1 C297.99,266.5 297.9,266.03 295.48,266.5 Z" fill="#000" fill-opacity="0.3" stroke="#000" stroke-opacity="0.18" stroke-width="0.6"/>
<path d="M295.48,239.75 C297.9,239.05 297.99,239.28 302.74,237.66 C307.48,236.03 305.53,237.42 309.71,234.87 C313.89,232.31 311.57,234.64 315.29,229.99 C319.01,225.34 316.68,226.73 320.87,220.92 C325.05,215.11 324.12,214.41 327.84,212.55 C331.56,210.69 328.77,213.02 332.03,215.34 C335.28,217.67 332.7,218.87 337.6,219.53 C342.51,220.18 342.2,218.98 346.74,217.3 C351.29,215.63 348.24,216.74 351.24,214.49 C354.23,212.25 353.11,211.69 355.73,210.56 C358.35,209.44 356.85,209.06 359.1,211.12 C361.35,213.18 360.22,212.25 362.47,216.74 C364.72,221.24 363.6,219.36 365.84,224.61 C368.09,229.85 366.97,227.23 369.21,232.47 C371.46,237.72 369.59,236.94 372.58,240.34 C375.58,243.74 375.02,240.4 378.2,242.67 C381.39,244.95 380.82,245.67 382.13,247.17 L382.93,287.98 C381.77,285.47 381.77,285.77 379.44,280.45 C377.12,275.12 378.24,276.54 375.96,272 C373.67,267.46 374.83,270.8 372.58,266.83 C370.34,262.86 371.09,264.58 369.21,260.09 C367.34,255.6 368.46,257.84 366.97,253.35 C365.47,248.85 366.22,250.91 364.72,246.61 C363.22,242.3 363.97,243.45 362.47,240.43 C360.97,237.4 362.1,239.24 360.22,237.53 C358.35,235.81 359.1,236.4 356.85,235.28 C354.61,234.16 357.58,232.9 353.48,234.16 C349.39,235.41 349.41,237.19 344.58,239.05 C339.75,240.92 342.25,240.45 339,239.75 C335.74,239.05 337.14,238.59 334.81,236.96 C332.49,235.33 334.35,236.03 332.03,234.87 C329.7,233.71 331.33,229.9 327.84,233.47 C324.35,237.04 324.82,238.75 321.56,245.58 C318.31,252.4 320.64,248.83 318.08,253.95 C315.52,259.06 317.61,257.2 313.89,260.92 C310.17,264.64 311.57,262.55 306.92,265.1 C302.27,267.66 303.76,266.96 299.95,268.59 C296.13,270.22 296.97,269.52 295.48,269.99 Z" fill="#ff0000" fill-opacity="0.21" stroke="#ff0000" stroke-opacity="0.3" stroke-width="0.8"/>
<line x1="289" y1="266.63" x2="391.2" y2="266.63" stroke="#444" stroke-width="1" stroke-dasharray="1.3,2.12"/>
<path d="M295.48,252.27 C297.44,251.9 297.53,252.92 301.34,251.16 C305.15,249.39 303.43,249.21 306.92,246.97 C310.41,244.74 308.78,244.7 311.8,244.46 C314.82,244.23 313.2,244.97 315.99,246.28 C318.78,247.58 317.38,247.76 320.17,248.37 C322.96,248.97 322.03,248.46 324.35,248.09 C326.68,247.72 325.05,246.93 327.14,247.25 C329.24,247.58 328.31,248.32 330.63,249.07 C332.95,249.81 331.79,250.88 334.12,249.48 C336.44,248.09 335.28,246.74 337.6,244.88 C339.93,243.02 339,243.91 341.09,243.91 C343.18,243.91 341.79,243.49 343.88,244.88 C345.97,246.28 344.81,246.93 347.37,248.09 C349.92,249.25 348.76,249.21 351.55,248.37 C354.34,247.53 352.95,245.81 355.74,245.58 C358.52,245.35 357.13,246.65 359.92,247.67 C362.71,248.69 360.85,249.11 364.1,248.65 C367.36,248.18 366.66,247.07 369.68,246.28 C372.7,245.49 370.38,243.72 373.17,246.28 C375.96,248.83 375.03,249.76 378.05,253.95 C381.07,258.13 380.84,257.2 382.23,258.83" fill="none" stroke="#111" stroke-width="1.15" stroke-linejoin="round"/>
</g>
<rect x="286" y="169.3" width="105.2" height="146" fill="none" stroke="#333" stroke-width="1"/>
<line x1="286" y1="299.08" x2="282.5" y2="299.08" stroke="#333" stroke-width="0.9"/>
<line x1="286" y1="282.86" x2="284" y2="282.86" stroke="#333" stroke-width="0.9"/>
<line x1="286" y1="266.63" x2="282.5" y2="266.63" stroke="#333" stroke-width="0.9"/>
<line x1="286" y1="250.41" x2="284" y2="250.41" stroke="#333" stroke-width="0.9"/>
<line x1="286" y1="234.19" x2="282.5" y2="234.19" stroke="#333" stroke-width="0.9"/>
<line x1="286" y1="217.97" x2="284" y2="217.97" stroke="#333" stroke-width="0.9"/>
<line x1="286" y1="201.74" x2="282.5" y2="201.74" stroke="#333" stroke-width="0.9"/>
<line x1="286" y1="185.52" x2="284" y2="185.52" stroke="#333" stroke-width="0.9"/>
<line x1="286" y1="169.3" x2="282.5" y2="169.3" stroke="#333" stroke-width="0.9"/>
<line x1="314.1" y1="315.3" x2="314.1" y2="318.5" stroke="#333" stroke-width="0.9"/>
<text x="299.93" y="329.6" font-size="11.5" textLength="28.21" lengthAdjust="spacingAndGlyphs" style="font-family:'Liberation Serif',serif;font-weight:normal;font-style:normal">3920</text>
<line x1="373" y1="315.3" x2="373" y2="318.5" stroke="#333" stroke-width="0.9"/>
<text x="358.82" y="329.6" font-size="11.5" textLength="28.21" lengthAdjust="spacingAndGlyphs" style="font-family:'Liberation Serif',serif;font-weight:normal;font-style:normal">3950</text>
<text x="291.5" y="180.8" font-size="10.6" textLength="7.02" lengthAdjust="spacingAndGlyphs" style="font-family:'Liberation Serif',serif;font-weight:normal;font-style:normal">R</text>
<text x="298.06" y="182" font-size="9" textLength="4.89" lengthAdjust="spacingAndGlyphs" style="font-family:'Liberation Serif',serif;font-weight:normal;font-style:italic">e</text>
<path d="M311,175.5 L306.4,177.85 L311,180.2" fill="none" stroke="#1a1a1a" stroke-width="1.0" stroke-linejoin="round"/>
<text x="314.91" y="180.8" font-size="10.6" textLength="6.6" lengthAdjust="spacingAndGlyphs" style="font-family:'Liberation Serif',serif;font-weight:normal;font-style:normal">R</text>
<path d="M329.4,175.5 L324.8,177.85 L329.4,180.2" fill="none" stroke="#1a1a1a" stroke-width="1.0" stroke-linejoin="round"/>
<text x="332.04" y="180.8" font-size="10.6" textLength="15.14" lengthAdjust="spacingAndGlyphs" style="font-family:'Liberation Serif',serif;font-weight:normal;font-style:normal">1.5</text>
<text x="347.41" y="180.8" font-size="10.6" textLength="6.7" lengthAdjust="spacingAndGlyphs" style="font-family:'Liberation Serif',serif;font-weight:normal;font-style:normal">R</text>
<text x="353.75" y="182" font-size="9" textLength="5" lengthAdjust="spacingAndGlyphs" style="font-family:'Liberation Serif',serif;font-weight:normal;font-style:italic">e</text>
<text x="290.94" y="308" font-size="10.6" textLength="36.95" lengthAdjust="spacingAndGlyphs" style="font-family:'Liberation Serif',serif;font-weight:normal;font-style:normal">Ca, Age</text>
<clipPath id="c111"><rect x="391.2" y="169.3" width="105.2" height="146"/></clipPath>
<g clip-path="url(#c111)">
<path d="M400.48,242.66 C401.51,241.49 401.13,241.26 403.55,239.17 C405.97,237.08 405.41,236.61 407.74,236.38 C410.06,236.15 408.2,236.15 410.53,238.47 C412.85,240.8 411.92,240.8 414.71,243.35 C417.5,245.91 416.1,246.61 418.89,246.14 C421.68,245.68 420.29,246.38 423.08,241.96 C425.87,237.54 424.47,240.1 427.26,232.89 C430.05,225.69 428.66,225.69 431.45,220.34 C434.24,215 432.84,218.71 435.63,216.85 C438.42,215 437.03,215.83 439.81,214.76 C442.6,213.69 441.67,213.41 444,213.65 C446.32,213.88 444.93,213.23 446.79,215.46 C448.65,217.69 447.72,217.32 449.58,220.34 C451.44,223.36 450.51,220.34 452.37,224.53 C454.23,228.71 452.83,227.32 455.16,232.89 C457.48,238.47 456.55,236.61 459.34,241.26 C462.13,245.91 460.27,243.31 463.52,246.84 C466.78,250.37 465.85,250.79 469.1,251.85 C472.36,252.92 470.5,249.58 473.29,250.04 C476.08,250.51 474.22,251.48 477.47,253.25 C480.73,255.02 479.56,254.41 483.05,255.34 C486.54,256.27 486.3,255.81 487.93,256.04 L487.93,283.24 C486.77,282.54 487,282.54 484.44,281.14 C481.89,279.75 483.52,280.21 480.26,279.05 C477.01,277.89 478.4,278.35 474.68,277.66 C470.96,276.96 472.36,277.66 469.1,276.96 C465.85,276.26 467.71,278.59 464.92,275.56 C462.13,272.54 463.52,273.71 460.74,267.89 C457.95,262.08 459.34,264.64 456.55,258.13 C453.76,251.62 455.62,253.48 452.37,248.37 C449.11,243.25 450.51,245.44 446.79,242.79 C443.07,240.14 444.93,240.42 441.21,240.42 C437.49,240.42 438.88,240.84 435.63,242.79 C432.38,244.74 434.24,242.56 431.45,246.28 C428.66,250 429.59,249.07 427.26,253.95 C424.94,258.83 426.8,256.27 424.47,260.92 C422.15,265.57 423.08,264.87 420.29,267.89 C417.5,270.92 418.89,270.22 416.1,269.99 C413.32,269.75 414.71,268.92 411.92,267.2 C409.13,265.48 411.55,264.83 407.74,264.83 C403.92,264.83 402.9,266.41 400.48,267.2 Z" fill="#000" fill-opacity="0.3" stroke="#000" stroke-opacity="0.18" stroke-width="0.6"/>
<path d="M400.48,244.05 C401.97,243.12 401.6,243.68 404.95,241.26 C408.29,238.84 406.81,238.89 410.53,236.8 C414.25,234.71 412.39,236.06 416.1,234.99 C419.82,233.92 418.43,235.22 421.68,233.59 C424.94,231.96 423.08,234.06 425.87,230.1 C428.66,226.15 427.26,226.39 430.05,221.74 C432.84,217.09 431.91,218.25 434.24,216.16 C436.56,214.07 434.7,215.46 437.03,215.46 C439.35,215.46 437.95,214.53 441.21,216.16 C444.46,217.78 443.53,217.55 446.79,220.34 C450.04,223.13 448.18,220.81 450.97,224.53 C453.76,228.25 452.37,226.39 455.16,231.5 C457.95,236.61 456.55,234.75 459.34,239.87 C462.13,244.98 460.27,242.38 463.52,246.84 C466.78,251.3 464.45,251.11 469.1,253.25 C473.75,255.39 472.82,252.78 477.47,253.25 C482.12,253.71 479.56,254.18 483.05,254.64 C486.54,255.11 486.3,254.64 487.93,254.64 L487.93,280.45 C486.3,280.21 486.54,280.45 483.05,279.75 C479.56,279.05 481.19,279.28 477.47,278.35 C473.75,277.42 475.61,277.89 471.89,276.96 C468.17,276.03 470.03,277.66 466.31,275.56 C462.59,273.47 463.99,274.64 460.74,270.68 C457.48,266.73 459.34,267.89 456.55,263.71 C453.76,259.53 455.62,260.69 452.37,258.13 C449.11,255.57 450.51,257.43 446.79,256.04 C443.07,254.64 444.46,255.81 441.21,253.95 C437.95,252.09 439.81,251.85 437.03,250.46 C434.24,249.07 435.63,249.76 432.84,249.76 C430.05,249.76 431.45,249.53 428.66,250.46 C425.87,251.39 427.73,250.69 424.47,252.55 C421.22,254.41 422.15,253.95 418.89,256.04 C415.64,258.13 417.96,256.74 414.71,258.83 C411.46,260.92 412.39,260.22 409.13,262.32 C405.88,264.41 407.83,263.25 404.95,265.1 C402.06,266.96 401.97,266.96 400.48,267.89 Z" fill="#ff0000" fill-opacity="0.21" stroke="#ff0000" stroke-opacity="0.3" stroke-width="0.8"/>
<line x1="394.2" y1="266.63" x2="496.4" y2="266.63" stroke="#444" stroke-width="1" stroke-dasharray="1.3,2.12"/>
<path d="M400.48,253.95 C401.51,253.02 401.13,252.78 403.55,251.16 C405.97,249.53 404.95,248.83 407.74,249.07 C410.53,249.3 409.6,250.23 411.92,251.85 C414.25,253.48 412.85,252.09 414.71,253.95 C416.57,255.81 415.64,256.6 417.5,257.43 C419.36,258.27 417.96,258.55 420.29,256.46 C422.61,254.37 422.15,255.02 424.47,251.16 C426.8,247.3 424.94,251.67 427.26,244.88 C429.59,238.1 429.12,235.96 431.45,230.8 C433.77,225.64 432.38,230.1 434.24,229.41 C436.1,228.71 435.17,229.41 437.03,228.71 C438.88,228.01 437.49,228.15 439.81,227.32 C442.14,226.48 441.67,226.2 444,226.2 C446.32,226.2 444.93,225.08 446.79,227.32 C448.65,229.55 447.72,229.87 449.58,232.89 C451.44,235.92 450.51,233.13 452.37,236.38 C454.23,239.64 453.3,237.73 455.16,242.66 C457.02,247.58 455.62,245.53 457.95,251.16 C460.27,256.78 459.34,255.11 462.13,259.53 C464.92,263.94 463.52,262.78 466.31,264.41 C469.1,266.03 467.94,265.1 470.5,264.41 C473.05,263.71 471.66,262.08 473.98,262.32 C476.31,262.55 474.91,263.48 477.47,265.1 C480.03,266.73 478.4,265.24 481.66,267.2 C484.91,269.15 485.37,269.71 487.23,270.96" fill="none" stroke="#111" stroke-width="1.15" stroke-linejoin="round"/>
</g>
<rect x="391.2" y="169.3" width="105.2" height="146" fill="none" stroke="#333" stroke-width="1"/>
<line x1="391.2" y1="299.08" x2="387.7" y2="299.08" stroke="#333" stroke-width="0.9"/>
<line x1="391.2" y1="282.86" x2="389.2" y2="282.86" stroke="#333" stroke-width="0.9"/>
<line x1="391.2" y1="266.63" x2="387.7" y2="266.63" stroke="#333" stroke-width="0.9"/>
<line x1="391.2" y1="250.41" x2="389.2" y2="250.41" stroke="#333" stroke-width="0.9"/>
<line x1="391.2" y1="234.19" x2="387.7" y2="234.19" stroke="#333" stroke-width="0.9"/>
<line x1="391.2" y1="217.97" x2="389.2" y2="217.97" stroke="#333" stroke-width="0.9"/>
<line x1="391.2" y1="201.74" x2="387.7" y2="201.74" stroke="#333" stroke-width="0.9"/>
<line x1="391.2" y1="185.52" x2="389.2" y2="185.52" stroke="#333" stroke-width="0.9"/>
<line x1="391.2" y1="169.3" x2="387.7" y2="169.3" stroke="#333" stroke-width="0.9"/>
<line x1="496.4" y1="299.08" x2="499.9" y2="299.08" stroke="#333" stroke-width="0.9"/>
<line x1="496.4" y1="282.86" x2="498.4" y2="282.86" stroke="#333" stroke-width="0.9"/>
<line x1="496.4" y1="266.63" x2="499.9" y2="266.63" stroke="#333" stroke-width="0.9"/>
<line x1="496.4" y1="250.41" x2="498.4" y2="250.41" stroke="#333" stroke-width="0.9"/>
<line x1="496.4" y1="234.19" x2="499.9" y2="234.19" stroke="#333" stroke-width="0.9"/>
<line x1="496.4" y1="217.97" x2="498.4" y2="217.97" stroke="#333" stroke-width="0.9"/>
<line x1="496.4" y1="201.74" x2="499.9" y2="201.74" stroke="#333" stroke-width="0.9"/>
<line x1="496.4" y1="185.52" x2="498.4" y2="185.52" stroke="#333" stroke-width="0.9"/>
<line x1="496.4" y1="169.3" x2="499.9" y2="169.3" stroke="#333" stroke-width="0.9"/>
<line x1="421.6" y1="315.3" x2="421.6" y2="318.5" stroke="#333" stroke-width="0.9"/>
<text x="407.28" y="329.6" font-size="11.5" textLength="28.36" lengthAdjust="spacingAndGlyphs" style="font-family:'Liberation Serif',serif;font-weight:normal;font-style:normal">5160</text>
<line x1="466.2" y1="315.3" x2="466.2" y2="318.5" stroke="#333" stroke-width="0.9"/>
<text x="451.88" y="329.6" font-size="11.5" textLength="28.36" lengthAdjust="spacingAndGlyphs" style="font-family:'Liberation Serif',serif;font-weight:normal;font-style:normal">5200</text>
<text x="396.7" y="180.8" font-size="10.6" textLength="7.02" lengthAdjust="spacingAndGlyphs" style="font-family:'Liberation Serif',serif;font-weight:normal;font-style:normal">R</text>
<text x="403.26" y="182" font-size="9" textLength="4.89" lengthAdjust="spacingAndGlyphs" style="font-family:'Liberation Serif',serif;font-weight:normal;font-style:italic">e</text>
<path d="M416.2,175.5 L411.6,177.85 L416.2,180.2" fill="none" stroke="#1a1a1a" stroke-width="1.0" stroke-linejoin="round"/>
<text x="420.11" y="180.8" font-size="10.6" textLength="6.6" lengthAdjust="spacingAndGlyphs" style="font-family:'Liberation Serif',serif;font-weight:normal;font-style:normal">R</text>
<path d="M434.6,175.5 L430,177.85 L434.6,180.2" fill="none" stroke="#1a1a1a" stroke-width="1.0" stroke-linejoin="round"/>
<text x="437.24" y="180.8" font-size="10.6" textLength="15.14" lengthAdjust="spacingAndGlyphs" style="font-family:'Liberation Serif',serif;font-weight:normal;font-style:normal">1.5</text>
<text x="452.61" y="180.8" font-size="10.6" textLength="6.7" lengthAdjust="spacingAndGlyphs" style="font-family:'Liberation Serif',serif;font-weight:normal;font-style:normal">R</text>
<text x="458.95" y="182" font-size="9" textLength="5" lengthAdjust="spacingAndGlyphs" style="font-family:'Liberation Serif',serif;font-weight:normal;font-style:italic">e</text>
<text x="396.56" y="308" font-size="10.6" textLength="33.64" lengthAdjust="spacingAndGlyphs" style="font-family:'Liberation Serif',serif;font-weight:normal;font-style:normal">Mg, Fe</text>
<clipPath id="c200"><rect x="522.5" y="23.3" width="105.2" height="146"/></clipPath>
<g clip-path="url(#c200)">
<path d="M531.44,93.91 C534.06,93.39 534.06,94.44 539.3,92.34 C544.55,90.24 542.45,91.03 547.17,87.62 C551.89,84.21 548.74,84.21 553.46,82.11 C558.18,80.02 556.08,82.64 561.33,81.33 C566.57,80.02 563.95,80.28 569.19,78.18 C574.44,76.08 572.86,75.82 577.06,75.03 C581.25,74.25 578.11,76.61 581.78,75.82 C585.45,75.03 583.35,73.46 588.07,72.67 C592.79,71.89 590.69,71.89 595.93,73.46 C601.18,75.03 598.56,73.2 603.8,77.39 C609.04,81.59 606.95,81.06 611.66,86.05 C616.38,91.03 615.86,90.24 617.96,92.34 L618.8,145.3 C616.97,143.73 616.7,144.53 613.3,140.6 C609.9,136.67 611.73,138.47 608.6,133.5 C605.47,128.53 607.03,131.2 603.9,125.7 C600.77,120.2 602.37,122.77 599.2,117 C596.03,111.23 597.03,112.83 594.4,108.4 C591.77,103.97 593.93,105.81 591.3,103.7 C588.67,101.59 590.19,103.14 586.5,102.08 C582.8,101.01 583.87,100.77 580.2,100.51 C576.53,100.24 579.15,99.46 575.48,101.29 C571.81,103.13 572.86,101.29 569.19,106.01 C565.52,110.73 567.62,109.37 564.47,115.45 C561.33,121.53 563.42,118.81 559.75,124.26 C556.08,129.71 558.18,126.57 553.46,131.81 C548.74,137.05 550.84,136 545.6,139.99 C540.35,143.97 542.45,142.3 537.73,143.77 C533.01,145.23 533.54,144.18 531.44,144.39 Z" fill="#000" fill-opacity="0.3" stroke="#000" stroke-opacity="0.18" stroke-width="0.6"/>
<path d="M531.44,94.7 C534.58,94.44 534.58,95.75 540.88,93.91 C547.17,92.08 544.55,92.86 550.32,89.19 C556.08,85.52 553.46,90.24 558.18,82.9 C562.9,75.56 560.28,77.13 564.47,67.17 C568.67,57.21 567.09,59.3 570.77,53.01 C574.44,46.72 572.6,50.13 575.48,48.29 C578.37,46.46 576.27,46.72 579.42,47.51 C582.56,48.29 581.51,47.24 584.92,50.65 C588.33,54.06 585.97,50.65 589.64,57.73 C593.31,64.81 591.74,63.5 595.93,71.89 C600.13,80.28 598.03,76.08 602.23,82.9 C606.42,89.72 603.28,85.68 608.52,92.34 C613.76,98.99 614.81,99.36 617.96,102.87 L618.8,150 C618.03,148.7 618.87,149.77 616.5,146.1 C614.13,142.43 614.87,143.97 611.7,139 C608.53,134.03 610.13,136.43 607,131.2 C603.87,125.97 605.43,129.07 602.3,123.3 C599.17,117.53 600.73,120.2 597.6,113.9 C594.47,107.6 595.55,111.59 592.9,104.4 C590.25,97.21 592.3,98.46 589.64,92.34 C586.98,86.22 588.07,88.93 584.92,86.05 C581.78,83.16 583.35,83.95 580.2,83.69 C577.06,83.42 578.63,83.42 575.48,85.26 C572.34,87.09 573.28,84.37 570.77,89.19 C568.25,94.01 569.77,93.06 567.93,99.72 C566.1,106.37 567.2,102.87 565.26,109.16 C563.32,115.45 564.21,112.83 562.11,118.6 C560.02,124.36 561.85,120.48 558.97,126.46 C556.08,132.44 557.92,130.34 553.46,136.53 C549,142.72 550.84,141.14 545.6,145.02 C540.35,148.9 542.45,147.33 537.73,148.17 C533.01,149.01 533.54,147.75 531.44,147.54 Z" fill="#ff0000" fill-opacity="0.21" stroke="#ff0000" stroke-opacity="0.3" stroke-width="0.8"/>
<line x1="525.5" y1="120.63" x2="627.7" y2="120.63" stroke="#444" stroke-width="1" stroke-dasharray="1.3,2.12"/>
<path d="M531.44,119.38 C534.06,119.12 534.58,120.43 539.3,118.6 C544.02,116.76 540.88,117.81 545.6,113.88 C550.32,109.94 548.74,110.21 553.46,106.8 C558.18,103.39 556.08,106.01 559.75,103.65 C563.42,101.29 561.33,103.49 564.47,99.72 C567.62,95.95 566.05,95.95 569.19,92.34 C572.34,88.72 571.03,90.45 573.91,88.88 C576.8,87.3 575.22,87.78 577.84,87.62 C580.47,87.46 578.89,88.41 581.78,88.41 C584.66,88.41 583.35,87.09 586.5,87.62 C589.64,88.14 588.07,87.88 591.22,89.98 C594.36,92.08 592.26,90.14 595.93,93.91 C599.6,97.68 598.03,96.21 602.23,101.29 C606.42,106.37 604.85,103.91 608.52,109.16 C612.19,114.4 610.62,113.61 613.24,117.02 C615.86,120.43 614.71,118.96 616.38,119.38 C618.06,119.8 617.64,118.65 618.27,118.28" fill="none" stroke="#111" stroke-width="1.15" stroke-linejoin="round"/>
</g>
<rect x="522.5" y="23.3" width="105.2" height="146" fill="none" stroke="#333" stroke-width="1"/>
<line x1="522.5" y1="153.08" x2="519" y2="153.08" stroke="#333" stroke-width="0.9"/>
<line x1="522.5" y1="136.86" x2="520.5" y2="136.86" stroke="#333" stroke-width="0.9"/>
<line x1="522.5" y1="120.63" x2="519" y2="120.63" stroke="#333" stroke-width="0.9"/>
<line x1="522.5" y1="104.41" x2="520.5" y2="104.41" stroke="#333" stroke-width="0.9"/>
<line x1="522.5" y1="88.19" x2="519" y2="88.19" stroke="#333" stroke-width="0.9"/>
<line x1="522.5" y1="71.97" x2="520.5" y2="71.97" stroke="#333" stroke-width="0.9"/>
<line x1="522.5" y1="55.74" x2="519" y2="55.74" stroke="#333" stroke-width="0.9"/>
<line x1="522.5" y1="39.52" x2="520.5" y2="39.52" stroke="#333" stroke-width="0.9"/>
<line x1="522.5" y1="23.3" x2="519" y2="23.3" stroke="#333" stroke-width="0.9"/>
<text x="528.09" y="34.8" font-size="10.6" textLength="7.12" lengthAdjust="spacingAndGlyphs" style="font-family:'Liberation Serif',serif;font-weight:normal;font-style:normal">R</text>
<path d="M542.9,29.5 L537.9,31.85 L542.9,34.2" fill="none" stroke="#1a1a1a" stroke-width="1.0" stroke-linejoin="round"/>
<text x="546.23" y="34.8" font-size="10.6" textLength="15.45" lengthAdjust="spacingAndGlyphs" style="font-family:'Liberation Serif',serif;font-weight:normal;font-style:normal">0.5</text>
<text x="561.41" y="34.8" font-size="10.6" textLength="6.6" lengthAdjust="spacingAndGlyphs" style="font-family:'Liberation Serif',serif;font-weight:normal;font-style:normal">R</text>
<text x="567.88" y="36" font-size="9" textLength="4.66" lengthAdjust="spacingAndGlyphs" style="font-family:'Liberation Serif',serif;font-weight:normal;font-style:italic">e</text>
<text x="527.44" y="162" font-size="10.6" textLength="36.95" lengthAdjust="spacingAndGlyphs" style="font-family:'Liberation Serif',serif;font-weight:normal;font-style:normal">Ca, Age</text>
<clipPath id="c201"><rect x="627.7" y="23.3" width="105.2" height="146"/></clipPath>
<g clip-path="url(#c201)">
<path d="M636.48,85.47 C637.51,85.01 637.6,86.17 639.55,84.08 C641.5,81.99 640.48,80.13 642.34,79.2 C644.2,78.27 642.81,79.43 645.13,81.29 C647.46,83.15 646.53,81.99 649.32,84.78 C652.1,87.56 650.94,86.64 653.5,89.66 C656.06,92.68 654.66,93.84 656.99,93.84 C659.31,93.84 657.92,96.63 660.47,89.66 C663.03,82.68 662.1,82.68 664.66,72.92 C667.21,63.16 665.82,64.09 668.14,60.37 C670.47,56.65 669.31,62.69 671.63,61.76 C673.95,60.83 672.79,57.11 675.12,57.58 C677.44,58.04 676.05,61.07 678.6,63.16 C681.16,65.25 680.46,62 682.79,63.85 C685.11,65.71 683.72,64.78 685.58,68.74 C687.44,72.69 686.04,70.6 688.37,75.71 C690.69,80.82 689.76,78.96 692.55,84.08 C695.34,89.19 694.88,87.18 696.74,91.05 C698.59,94.92 695.81,93.22 698.13,95.7 C700.45,98.18 700.92,97.56 703.71,98.49 C706.5,99.42 704.17,99.09 706.5,98.49 C708.82,97.88 707.43,96.91 710.68,96.67 C713.94,96.44 713.01,96.26 716.26,97.79 C719.52,99.32 717.89,99.18 720.44,101.28 C723,103.37 722.77,103.14 723.93,104.07 L723.93,134.05 C721.37,132.66 720.68,131.73 716.26,129.87 C711.84,128.01 713.94,128.01 710.68,128.47 C707.43,128.94 708.82,131.03 706.5,131.26 C704.17,131.49 706.5,130.1 703.71,129.17 C700.92,128.24 701.38,130.33 698.13,128.47 C694.88,126.61 696.74,128.01 693.95,123.59 C691.16,119.17 692.55,120.34 689.76,115.22 C686.97,110.11 687.9,112.2 685.58,108.25 C683.25,104.3 685.11,104.53 682.79,103.37 C680.46,102.21 681.16,105.46 678.6,104.76 C676.05,104.07 676.98,101.97 675.12,101.28 C673.26,100.58 674.88,103.14 673.03,102.67 C671.17,102.21 671.4,98.72 669.54,99.88 C667.68,101.04 669.54,99.88 667.45,106.16 C665.35,112.43 665.59,111.97 663.26,118.71 C660.94,125.45 662.8,122.43 660.47,126.38 C658.15,130.33 658.61,129.64 656.29,130.56 C653.96,131.49 655.82,131.03 653.5,129.17 C651.17,127.31 652.1,127.54 649.32,124.99 C646.53,122.43 647.92,122.66 645.13,121.5 C642.34,120.34 643.83,120.34 640.95,121.5 C638.06,122.66 637.97,123.82 636.48,124.99 Z" fill="#000" fill-opacity="0.3" stroke="#000" stroke-opacity="0.18" stroke-width="0.6"/>
<path d="M636.48,89.66 C638.9,88.73 638.99,88.26 643.74,86.87 C648.48,85.47 646.06,86.87 650.71,85.47 C655.36,84.08 653.5,86.4 657.68,82.68 C661.87,78.96 659.54,78.96 663.26,74.32 C666.98,69.67 665.59,69.9 668.84,68.74 C672.1,67.57 669.77,69.43 673.03,70.83 C676.28,72.22 674.88,71.06 678.6,72.92 C682.32,74.78 680.93,74.55 684.18,76.41 C687.44,78.27 685.58,75.48 688.37,78.5 C691.16,81.52 689.76,80.82 692.55,85.47 C695.34,90.12 693.02,87.88 696.74,92.45 C700.45,97.02 699.99,97.4 703.71,99.18 C707.43,100.97 705.1,98.49 707.89,97.79 C710.68,97.09 708.82,96.39 712.08,97.09 C715.33,97.79 713.7,96.86 717.66,99.88 C721.61,102.9 721.84,104.07 723.93,106.16 L723.93,138.93 C722.3,137.31 722.54,136.84 719.05,134.05 C715.56,131.26 717.19,132.66 713.47,130.56 C709.75,128.47 711.61,128.94 707.89,127.78 C704.17,126.61 706.03,127.78 702.31,127.08 C698.59,126.38 700.45,127.78 696.74,125.68 C693.02,123.59 694.88,123.82 691.16,120.8 C687.44,117.78 689.3,118.48 685.58,116.62 C681.86,114.76 683.72,116.62 680,115.22 C676.28,113.83 678.14,113.83 674.42,112.43 C670.7,111.04 672.56,110.34 668.84,111.04 C665.12,111.74 666.98,111.97 663.26,114.53 C659.54,117.08 661.87,116.85 657.68,118.71 C653.5,120.57 654.43,118.94 650.71,120.1 C646.99,121.27 649.08,122.43 646.53,122.2 C643.97,121.96 645.36,118.94 643.04,119.41 C640.71,119.87 641.74,121.96 639.55,123.59 C637.37,125.22 637.51,124.06 636.48,124.29 Z" fill="#ff0000" fill-opacity="0.21" stroke="#ff0000" stroke-opacity="0.3" stroke-width="0.8"/>
<line x1="630.7" y1="120.63" x2="732.9" y2="120.63" stroke="#444" stroke-width="1" stroke-dasharray="1.3,2.12"/>
<path d="M636.48,104.76 C637.51,104.3 637.37,105.46 639.55,103.37 C641.74,101.28 640.71,98.95 643.04,98.49 C645.36,98.02 643.97,99.65 646.53,101.97 C649.08,104.3 647.92,102.44 650.71,105.46 C653.5,108.48 652.34,108.71 654.89,111.04 C657.45,113.36 656.52,113.13 658.38,112.43 C660.24,111.74 658.94,113.36 660.47,108.95 C662.01,104.53 661.59,105.61 662.98,99.18 C664.38,92.75 663.17,96.09 664.66,89.66 C666.14,83.23 665.82,83.61 667.45,79.89 C669.07,76.17 668.14,78.27 669.54,78.5 C670.93,78.73 670.24,79.2 671.63,80.59 C673.03,81.99 672.56,83.61 673.72,82.68 C674.88,81.75 673.95,78.03 675.12,77.8 C676.28,77.57 675.58,79.89 677.21,81.99 C678.84,84.08 677.91,83.61 680,84.08 C682.09,84.54 681.16,81.06 683.49,83.38 C685.81,85.71 684.42,85.32 686.97,91.05 C689.53,96.78 688.37,94.61 691.16,100.58 C693.95,106.54 693.02,104.76 695.34,108.95 C697.66,113.13 695.81,111.5 698.13,113.13 C700.45,114.76 699.76,112.67 702.31,113.83 C704.87,114.99 703.48,117.08 705.8,116.62 C708.13,116.15 706.73,113.69 709.29,112.43 C711.84,111.18 710.68,112.15 713.47,112.85 C716.26,113.55 714.17,112.57 717.66,114.53 C721.14,116.48 721.84,117.32 723.93,118.71" fill="none" stroke="#111" stroke-width="1.15" stroke-linejoin="round"/>
</g>
<rect x="627.7" y="23.3" width="105.2" height="146" fill="none" stroke="#333" stroke-width="1"/>
<line x1="627.7" y1="153.08" x2="624.2" y2="153.08" stroke="#333" stroke-width="0.9"/>
<line x1="627.7" y1="136.86" x2="625.7" y2="136.86" stroke="#333" stroke-width="0.9"/>
<line x1="627.7" y1="120.63" x2="624.2" y2="120.63" stroke="#333" stroke-width="0.9"/>
<line x1="627.7" y1="104.41" x2="625.7" y2="104.41" stroke="#333" stroke-width="0.9"/>
<line x1="627.7" y1="88.19" x2="624.2" y2="88.19" stroke="#333" stroke-width="0.9"/>
<line x1="627.7" y1="71.97" x2="625.7" y2="71.97" stroke="#333" stroke-width="0.9"/>
<line x1="627.7" y1="55.74" x2="624.2" y2="55.74" stroke="#333" stroke-width="0.9"/>
<line x1="627.7" y1="39.52" x2="625.7" y2="39.52" stroke="#333" stroke-width="0.9"/>
<line x1="627.7" y1="23.3" x2="624.2" y2="23.3" stroke="#333" stroke-width="0.9"/>
<line x1="732.9" y1="153.08" x2="736.4" y2="153.08" stroke="#333" stroke-width="0.9"/>
<line x1="732.9" y1="136.86" x2="734.9" y2="136.86" stroke="#333" stroke-width="0.9"/>
<line x1="732.9" y1="120.63" x2="736.4" y2="120.63" stroke="#333" stroke-width="0.9"/>
<line x1="732.9" y1="104.41" x2="734.9" y2="104.41" stroke="#333" stroke-width="0.9"/>
<line x1="732.9" y1="88.19" x2="736.4" y2="88.19" stroke="#333" stroke-width="0.9"/>
<line x1="732.9" y1="71.97" x2="734.9" y2="71.97" stroke="#333" stroke-width="0.9"/>
<line x1="732.9" y1="55.74" x2="736.4" y2="55.74" stroke="#333" stroke-width="0.9"/>
<line x1="732.9" y1="39.52" x2="734.9" y2="39.52" stroke="#333" stroke-width="0.9"/>
<line x1="732.9" y1="23.3" x2="736.4" y2="23.3" stroke="#333" stroke-width="0.9"/>
<text x="633.29" y="34.8" font-size="10.6" textLength="7.12" lengthAdjust="spacingAndGlyphs" style="font-family:'Liberation Serif',serif;font-weight:normal;font-style:normal">R</text>
<path d="M648.1,29.5 L643.1,31.85 L648.1,34.2" fill="none" stroke="#1a1a1a" stroke-width="1.0" stroke-linejoin="round"/>
<text x="651.43" y="34.8" font-size="10.6" textLength="15.45" lengthAdjust="spacingAndGlyphs" style="font-family:'Liberation Serif',serif;font-weight:normal;font-style:normal">0.5</text>
<text x="666.61" y="34.8" font-size="10.6" textLength="6.6" lengthAdjust="spacingAndGlyphs" style="font-family:'Liberation Serif',serif;font-weight:normal;font-style:normal">R</text>
<text x="673.08" y="36" font-size="9" textLength="4.66" lengthAdjust="spacingAndGlyphs" style="font-family:'Liberation Serif',serif;font-weight:normal;font-style:italic">e</text>
<text x="633.06" y="162" font-size="10.6" textLength="33.64" lengthAdjust="spacingAndGlyphs" style="font-family:'Liberation Serif',serif;font-weight:normal;font-style:normal">Mg, Fe</text>
<clipPath id="c210"><rect x="522.5" y="169.3" width="105.2" height="146"/></clipPath>
<g clip-path="url(#c210)">
<path d="M531.27,199.85 C532.11,198.73 531.55,197.33 533.8,196.48 C536.05,195.64 535.76,197.89 538.01,197.33 C540.26,196.76 538.57,197.33 540.54,194.8 C542.51,192.27 541.66,191.15 543.91,189.74 C546.16,188.34 545.32,187.21 547.28,190.58 C549.25,193.96 547.84,195.36 549.81,199.85 C551.78,204.35 550.65,198.73 553.18,204.07 C555.71,209.41 554.31,209.13 557.4,215.87 C560.49,222.61 559.36,220.92 562.45,224.29 C565.54,227.67 563.86,236.37 566.67,225.98 C569.47,215.59 568.35,200.7 570.88,193.11 C573.41,185.53 572,197.33 574.25,203.23 C576.5,209.13 575.09,209.41 577.62,210.81 C580.15,212.22 579.31,215.87 581.83,207.44 C584.36,199.01 582.96,191.15 585.21,185.53 C587.45,179.91 586.61,187.21 588.58,190.58 C590.54,193.96 589.14,195.92 591.11,195.64 C593.07,195.36 592.51,187.78 594.48,189.74 C596.44,191.71 595.04,191.99 597,201.54 C598.97,211.09 597.85,215.31 600.38,218.4 C602.9,221.49 602.06,211.37 604.59,210.81 C607.12,210.25 605.15,213.9 607.96,216.71 C610.77,219.52 610.21,216.99 613.02,219.24 C615.83,221.49 614.42,223.73 616.39,223.45 C618.35,223.17 618.07,220.08 618.92,218.4 L618.92,283.51 C618.07,284.63 619.48,289.13 616.39,286.88 C613.3,284.63 613.58,282.1 609.65,276.77 C605.71,271.43 607.96,271.71 604.59,270.87 C601.22,270.02 602.04,283.59 599.53,274.24 C597.03,264.89 599.02,252.44 597.08,242.81 C595.14,233.18 595.96,243.93 593.71,245.34 C591.46,246.74 592.31,251.52 590.34,247.02 C588.37,242.53 589.5,238.6 587.81,231.85 C586.13,225.11 586.69,227.92 585.28,226.8 C583.88,225.67 585.28,223.99 583.6,228.48 C581.91,232.98 582.22,232.05 580.23,240.28 C578.23,248.51 579.61,250.56 577.62,253.17 C575.63,255.78 576.5,250.36 574.25,248.11 C572,245.87 572.85,241.37 570.88,246.43 C568.91,251.48 570.04,253.17 568.35,263.28 C566.67,273.4 567.79,268.9 565.82,276.77 C563.86,284.63 565.26,286.88 562.45,286.88 C559.64,286.88 560.2,284.63 557.4,276.77 C554.59,268.9 555.99,270.02 554.02,263.28 C552.06,256.54 553.18,257.66 551.5,256.54 C549.81,255.42 550.93,260.75 548.97,259.91 C547,259.07 547.84,254.01 545.6,254.01 C543.35,254.01 544.47,255.98 542.23,259.91 C539.98,263.84 542.51,264.13 538.85,265.81 C535.2,267.5 533.8,265.25 531.27,264.97 Z" fill="#000" fill-opacity="0.3" stroke="#000" stroke-opacity="0.18" stroke-width="0.6"/>
<path d="M531.27,224.29 C533.8,225.98 533.52,226.82 538.85,229.35 C544.19,231.88 541.66,230.76 547.28,231.88 C552.9,233 550.65,232.16 555.71,232.72 C560.77,233.28 558.52,232.16 562.45,233.56 C566.38,234.97 563.83,238.07 567.51,236.94 C571.19,235.8 570.37,233.27 573.48,230.17 C576.6,227.07 574.05,228.2 576.85,227.64 C579.66,227.08 578.54,226.52 581.91,228.48 C585.28,230.45 583.04,229.05 586.97,233.54 C590.9,238.04 589.22,237.47 593.71,241.97 C598.2,246.46 595.96,244.78 600.45,247.02 C604.95,249.27 602.7,247.31 607.19,248.71 C611.69,250.11 609.67,249.55 613.94,251.24 C618.21,252.92 617.98,252.92 620,253.77 L618.92,291.94 C618.07,291.94 619.48,294.18 616.39,291.94 C613.3,289.69 614.14,289.13 609.65,285.19 C605.15,281.26 607.4,283.51 602.9,280.14 C598.41,276.77 600.09,278.45 596.16,275.08 C592.23,271.71 594.48,273.4 591.11,270.02 C587.73,266.65 589.98,267.22 586.05,264.97 C582.12,262.72 583.8,264.13 579.31,263.28 C574.81,262.44 577.06,261.88 572.56,262.44 C568.07,263 570.32,264.41 565.82,264.97 C561.33,265.53 563.58,264.69 559.08,264.13 C554.59,263.56 556.83,263 552.34,263.28 C547.84,263.56 550.09,263.84 545.6,264.97 C541.1,266.09 543.63,268.34 538.85,266.65 C534.08,264.97 533.8,262.16 531.27,259.91 Z" fill="#ff0000" fill-opacity="0.21" stroke="#ff0000" stroke-opacity="0.3" stroke-width="0.8"/>
<line x1="525.5" y1="266.63" x2="627.7" y2="266.63" stroke="#444" stroke-width="1" stroke-dasharray="1.3,2.12"/>
<path d="M531.27,233.56 C532.39,232.72 532.11,231.32 534.64,231.04 C537.17,230.76 536.33,234.69 538.85,232.72 C541.38,230.76 539.98,229.07 542.23,225.14 C544.47,221.2 543.35,219.8 545.6,220.92 C547.84,222.05 547,226.26 548.97,228.51 C550.93,230.76 549.81,225.42 551.5,227.67 C553.18,229.91 551.78,228.43 554.02,235.25 C556.27,242.07 555.15,241.02 558.24,248.11 C561.33,255.21 560.65,257.66 563.29,256.54 C565.94,255.42 563.91,257.46 566.16,244.74 C568.41,232.03 567.9,225.77 570.04,218.4 C572.17,211.02 570.6,218.11 572.56,222.61 C574.53,227.1 573.13,230.19 575.94,231.88 C578.74,233.56 577.9,236.65 580.99,227.67 C584.08,218.68 582.68,210.53 585.21,204.91 C587.73,199.29 586.61,204.91 588.58,210.81 C590.54,216.71 589.14,220.36 591.11,222.61 C593.07,224.86 592.51,216.15 594.48,217.55 C596.44,218.96 595.04,217.2 597,226.82 C598.97,236.45 597.85,241.86 600.38,246.43 C602.9,251 601.5,240.81 604.59,240.53 C607.68,240.25 606.56,243.06 609.65,245.58 C612.74,248.11 611.33,245.02 613.86,248.11 C616.39,251.2 615.54,254.57 617.23,254.85 C618.92,255.14 618.35,250.92 618.92,248.96" fill="none" stroke="#111" stroke-width="1.15" stroke-linejoin="round"/>
</g>
<rect x="522.5" y="169.3" width="105.2" height="146" fill="none" stroke="#333" stroke-width="1"/>
<line x1="522.5" y1="299.08" x2="519" y2="299.08" stroke="#333" stroke-width="0.9"/>
<line x1="522.5" y1="282.86" x2="520.5" y2="282.86" stroke="#333" stroke-width="0.9"/>
<line x1="522.5" y1="266.63" x2="519" y2="266.63" stroke="#333" stroke-width="0.9"/>
<line x1="522.5" y1="250.41" x2="520.5" y2="250.41" stroke="#333" stroke-width="0.9"/>
<line x1="522.5" y1="234.19" x2="519" y2="234.19" stroke="#333" stroke-width="0.9"/>
<line x1="522.5" y1="217.97" x2="520.5" y2="217.97" stroke="#333" stroke-width="0.9"/>
<line x1="522.5" y1="201.74" x2="519" y2="201.74" stroke="#333" stroke-width="0.9"/>
<line x1="522.5" y1="185.52" x2="520.5" y2="185.52" stroke="#333" stroke-width="0.9"/>
<line x1="522.5" y1="169.3" x2="519" y2="169.3" stroke="#333" stroke-width="0.9"/>
<line x1="550.6" y1="315.3" x2="550.6" y2="318.5" stroke="#333" stroke-width="0.9"/>
<text x="536.43" y="329.6" font-size="11.5" textLength="28.21" lengthAdjust="spacingAndGlyphs" style="font-family:'Liberation Serif',serif;font-weight:normal;font-style:normal">3920</text>
<line x1="609.5" y1="315.3" x2="609.5" y2="318.5" stroke="#333" stroke-width="0.9"/>
<text x="595.33" y="329.6" font-size="11.5" textLength="28.21" lengthAdjust="spacingAndGlyphs" style="font-family:'Liberation Serif',serif;font-weight:normal;font-style:normal">3950</text>
<text x="528" y="180.8" font-size="10.6" textLength="7.02" lengthAdjust="spacingAndGlyphs" style="font-family:'Liberation Serif',serif;font-weight:normal;font-style:normal">R</text>
<text x="534.56" y="182" font-size="9" textLength="4.89" lengthAdjust="spacingAndGlyphs" style="font-family:'Liberation Serif',serif;font-weight:normal;font-style:italic">e</text>
<path d="M547.5,175.5 L542.9,177.85 L547.5,180.2" fill="none" stroke="#1a1a1a" stroke-width="1.0" stroke-linejoin="round"/>
<text x="551.41" y="180.8" font-size="10.6" textLength="6.6" lengthAdjust="spacingAndGlyphs" style="font-family:'Liberation Serif',serif;font-weight:normal;font-style:normal">R</text>
<path d="M565.9,175.5 L561.3,177.85 L565.9,180.2" fill="none" stroke="#1a1a1a" stroke-width="1.0" stroke-linejoin="round"/>
<text x="568.54" y="180.8" font-size="10.6" textLength="15.14" lengthAdjust="spacingAndGlyphs" style="font-family:'Liberation Serif',serif;font-weight:normal;font-style:normal">1.5</text>
<text x="583.91" y="180.8" font-size="10.6" textLength="6.7" lengthAdjust="spacingAndGlyphs" style="font-family:'Liberation Serif',serif;font-weight:normal;font-style:normal">R</text>
<text x="590.25" y="182" font-size="9" textLength="5" lengthAdjust="spacingAndGlyphs" style="font-family:'Liberation Serif',serif;font-weight:normal;font-style:italic">e</text>
<text x="527.44" y="308" font-size="10.6" textLength="36.95" lengthAdjust="spacingAndGlyphs" style="font-family:'Liberation Serif',serif;font-weight:normal;font-style:normal">Ca, Age</text>
<clipPath id="c211"><rect x="627.7" y="169.3" width="105.2" height="146"/></clipPath>
<g clip-path="url(#c211)">
<path d="M636.27,247.75 C637.39,247.19 637.39,252.81 639.64,246.07 C641.89,239.33 641.05,231.18 643.01,227.53 C644.98,223.88 643.57,233.15 645.54,235.11 C647.51,237.08 646.66,232.3 648.91,233.43 C651.16,234.55 650.32,240.73 652.28,238.48 C654.25,236.24 652.2,232.75 654.81,226.69 C657.42,220.62 657.22,224.11 660.12,220.3 C663.01,216.48 661.24,221.42 663.49,215.24 C665.74,209.05 664.9,208.49 666.86,201.75 C668.83,195 667.71,195.28 669.39,195 C671.08,194.72 670.24,195.84 671.92,200.9 C673.61,205.96 672.77,209.33 674.45,210.18 C676.14,211.02 675.3,202.31 676.98,203.43 C678.67,204.56 677.54,208.77 679.51,213.55 C681.48,218.33 680.92,214.39 682.88,217.77 C684.85,221.14 683.73,220.01 685.41,223.67 C687.1,227.32 686.26,224.79 687.94,228.73 C689.63,232.66 688.5,230.41 690.47,235.47 C692.44,240.53 691.6,239.41 693.84,243.9 C696.09,248.4 694.78,246.84 697.22,248.96 C699.66,251.09 698.16,249 701.16,250.28 C704.16,251.56 702.85,254.5 706.22,252.81 C709.59,251.13 708.18,249.72 711.27,245.23 C714.36,240.73 712.12,240.45 715.49,239.33 C718.86,238.2 718.58,239.33 721.39,241.85 C724.2,244.38 723.07,245.23 723.92,246.91 L723.9,295.8 C723.47,295.6 724.3,297.77 722.6,295.2 C720.9,292.63 721.37,289.83 718.8,288.1 C716.23,286.37 717.5,288.93 714.9,290 C712.3,291.07 713.6,290.43 711,291.3 C708.4,292.17 709.9,290.43 707.1,292.6 C704.3,294.77 705.17,299.73 702.6,297.8 C700.03,295.87 701.6,289.73 699.4,286.8 C697.2,283.87 697.73,287.5 696,289 C694.27,290.5 695.87,291.63 694.2,291.3 C692.53,290.97 692.89,292.82 691,288 C689.11,283.18 689.91,284.5 688.52,276.85 C687.13,269.21 688.8,267.3 686.83,265.06 C684.87,262.81 685.71,269.27 682.62,270.11 C679.53,270.96 680.37,270.96 677.56,267.58 C674.76,264.21 675.51,264.18 674.19,260 C672.88,255.82 674.37,262.09 673.61,255.03 C672.85,247.98 673.33,246.77 671.92,238.84 C670.52,230.92 671.08,231.26 669.39,231.26 C667.71,231.26 668.55,230.92 666.86,238.84 C665.18,246.77 667.23,245.73 664.33,255.03 C661.44,264.33 661.08,259.47 658.18,266.74 C655.29,274.02 657.62,269.55 655.65,276.85 C653.69,284.16 654.53,285.84 652.28,288.65 C650.04,291.46 650.88,288.09 648.91,285.28 C646.94,282.47 648.07,279.66 646.38,280.23 C644.7,280.79 645.54,287.53 643.85,286.97 C642.17,286.41 643.01,277.7 641.33,278.54 C639.64,279.38 640.48,286.69 638.8,289.5 C637.11,292.31 637.11,287.81 636.27,286.97 Z" fill="#000" fill-opacity="0.3" stroke="#000" stroke-opacity="0.18" stroke-width="0.6"/>
<path d="M636.27,212.82 C637.67,211.98 637.39,212.54 640.48,210.29 C643.57,208.05 642.17,208.89 645.54,206.08 C648.91,203.27 647.79,203.83 650.6,201.87 C653.41,199.9 651.72,199.9 653.97,200.18 C656.22,200.46 655.09,199.34 657.34,202.71 C659.59,206.08 658.91,206.08 660.71,210.29 C662.51,214.51 662.06,213.67 662.73,215.35 C663.18,196.53 663.63,177.71 664.08,158.89 C672.06,158.89 680.04,158.89 688.01,158.89 C688.24,170.69 688.46,182.48 688.69,194.28 C689.76,202.15 689.98,203.15 691.89,217.88 C693.8,232.61 691.89,232.74 694.42,238.48 C696.95,244.23 696.39,234.83 699.48,235.11 C702.57,235.39 701.16,234.83 703.69,239.33 C706.22,243.82 705.09,244.1 707.06,248.6 C709.03,253.09 707.62,251.69 709.59,252.81 C711.56,253.93 710.71,254.5 712.96,251.97 C715.21,249.44 714.36,251.97 716.33,245.23 C718.3,238.48 717.17,240.3 718.86,231.74 C720.54,223.19 719.7,226.15 721.39,219.56 C723.07,212.98 723.07,214.51 723.92,211.98 L724,318 C723.33,318 723.73,321.07 722,318 C720.27,314.93 720.73,314.03 718.8,308.8 C716.87,303.57 718.17,305.53 716.2,302.3 C714.23,299.07 715.07,299.73 712.9,299.1 C710.73,298.47 712.07,297.6 709.7,300.4 C707.33,303.2 708.37,302.47 705.8,307.5 C703.23,312.53 704.27,316 702,315.5 C699.73,315 700.83,314.5 699,306 C697.17,297.5 697.83,298.33 696.5,290 C695.17,281.67 696.17,284.17 695,281 C693.83,277.83 694.17,279.17 693,280.5 C691.83,281.83 692.5,279.83 691.5,285 C690.5,290.17 691,285 690,296 C689,307 689,310.67 688.5,318 C688.34,322.26 688.18,326.53 688.01,330.79 C680.04,330.79 672.06,330.79 664.08,330.79 C663.63,314.5 663.18,298.2 662.73,281.91 C662.06,280.51 661.95,281.91 660.71,277.7 C659.47,273.48 660.15,268.99 659.02,269.27 C657.9,269.55 658.74,274.89 657.34,278.54 C655.93,282.19 656.5,279.1 654.81,280.23 C653.13,281.35 653.97,283.04 652.28,281.91 C650.6,280.79 651.44,277.42 649.75,276.85 C648.07,276.29 648.91,280.23 647.23,280.23 C645.54,280.23 646.38,277.42 644.7,276.85 C643.01,276.29 644.14,275.73 642.17,278.54 C640.2,281.35 640.76,282.47 638.8,285.28 C636.83,288.09 637.11,286.41 636.27,286.97 Z" fill="#ff0000" fill-opacity="0.21" stroke="#ff0000" stroke-opacity="0.3" stroke-width="0.8"/>
<line x1="630.7" y1="266.63" x2="732.9" y2="266.63" stroke="#444" stroke-width="1" stroke-dasharray="1.3,2.12"/>
<path d="M636.27,265.45 C637.39,266.86 637.39,274.16 639.64,269.67 C641.89,265.17 641.05,254.78 643.01,251.97 C644.98,249.16 643.85,259.55 645.54,261.24 C647.23,262.92 646.66,258.15 648.07,257.02 C649.47,255.9 648.35,255.62 649.75,257.87 C651.16,260.11 650.32,266.29 652.28,263.77 C654.25,261.24 653.69,257.59 655.65,250.28 C657.62,242.98 656.5,243.54 658.18,241.85 C659.87,240.17 659.02,247.47 660.71,245.23 C662.4,242.98 662.31,238.36 663.24,235.11 C664.16,231.86 662.28,241.54 663.49,235.47 C664.7,229.41 664.9,224.79 666.86,216.92 C668.83,209.05 667.99,212.99 669.39,211.86 C670.8,210.74 669.67,206.8 671.08,213.55 C672.48,220.3 672.2,225.07 673.61,232.1 C675.01,239.13 673.89,233.5 675.3,234.63 C676.7,235.75 675.86,233.79 677.82,235.47 C679.79,237.16 679.23,238 681.2,239.69 C683.16,241.37 682.32,239.13 683.73,240.53 C685.13,241.94 684.1,238.13 685.41,243.9 C686.73,249.68 685.8,251.25 687.68,257.87 C689.56,264.49 688.8,260.11 691.05,263.77 C693.3,267.42 692.17,267.98 694.42,268.82 C696.67,269.67 695.54,264.33 697.79,266.29 C700.04,268.26 698.91,272.47 701.16,274.72 C703.41,276.97 701.72,274.72 704.53,273.04 C707.34,271.35 706.78,271.63 709.59,269.67 C712.4,267.7 710.99,269.38 712.96,267.14 C714.93,264.89 713.52,263.2 715.49,262.92 C717.45,262.64 716.61,263.77 718.86,266.29 C721.11,268.82 720.54,269.1 722.23,270.51 C723.92,271.91 723.35,270.51 723.92,270.51" fill="none" stroke="#111" stroke-width="1.15" stroke-linejoin="round"/>
</g>
<rect x="627.7" y="169.3" width="105.2" height="146" fill="none" stroke="#333" stroke-width="1"/>
<line x1="627.7" y1="299.08" x2="624.2" y2="299.08" stroke="#333" stroke-width="0.9"/>
<line x1="627.7" y1="282.86" x2="625.7" y2="282.86" stroke="#333" stroke-width="0.9"/>
<line x1="627.7" y1="266.63" x2="624.2" y2="266.63" stroke="#333" stroke-width="0.9"/>
<line x1="627.7" y1="250.41" x2="625.7" y2="250.41" stroke="#333" stroke-width="0.9"/>
<line x1="627.7" y1="234.19" x2="624.2" y2="234.19" stroke="#333" stroke-width="0.9"/>
<line x1="627.7" y1="217.97" x2="625.7" y2="217.97" stroke="#333" stroke-width="0.9"/>
<line x1="627.7" y1="201.74" x2="624.2" y2="201.74" stroke="#333" stroke-width="0.9"/>
<line x1="627.7" y1="185.52" x2="625.7" y2="185.52" stroke="#333" stroke-width="0.9"/>
<line x1="627.7" y1="169.3" x2="624.2" y2="169.3" stroke="#333" stroke-width="0.9"/>
<line x1="732.9" y1="299.08" x2="736.4" y2="299.08" stroke="#333" stroke-width="0.9"/>
<line x1="732.9" y1="282.86" x2="734.9" y2="282.86" stroke="#333" stroke-width="0.9"/>
<line x1="732.9" y1="266.63" x2="736.4" y2="266.63" stroke="#333" stroke-width="0.9"/>
<line x1="732.9" y1="250.41" x2="734.9" y2="250.41" stroke="#333" stroke-width="0.9"/>
<line x1="732.9" y1="234.19" x2="736.4" y2="234.19" stroke="#333" stroke-width="0.9"/>
<line x1="732.9" y1="217.97" x2="734.9" y2="217.97" stroke="#333" stroke-width="0.9"/>
<line x1="732.9" y1="201.74" x2="736.4" y2="201.74" stroke="#333" stroke-width="0.9"/>
<line x1="732.9" y1="185.52" x2="734.9" y2="185.52" stroke="#333" stroke-width="0.9"/>
<line x1="732.9" y1="169.3" x2="736.4" y2="169.3" stroke="#333" stroke-width="0.9"/>
<line x1="658.1" y1="315.3" x2="658.1" y2="318.5" stroke="#333" stroke-width="0.9"/>
<text x="643.78" y="329.6" font-size="11.5" textLength="28.36" lengthAdjust="spacingAndGlyphs" style="font-family:'Liberation Serif',serif;font-weight:normal;font-style:normal">5160</text>
<line x1="702.7" y1="315.3" x2="702.7" y2="318.5" stroke="#333" stroke-width="0.9"/>
<text x="688.38" y="329.6" font-size="11.5" textLength="28.36" lengthAdjust="spacingAndGlyphs" style="font-family:'Liberation Serif',serif;font-weight:normal;font-style:normal">5200</text>
<text x="633.2" y="180.8" font-size="10.6" textLength="7.02" lengthAdjust="spacingAndGlyphs" style="font-family:'Liberation Serif',serif;font-weight:normal;font-style:normal">R</text>
<text x="639.76" y="182" font-size="9" textLength="4.89" lengthAdjust="spacingAndGlyphs" style="font-family:'Liberation Serif',serif;font-weight:normal;font-style:italic">e</text>
<path d="M652.7,175.5 L648.1,177.85 L652.7,180.2" fill="none" stroke="#1a1a1a" stroke-width="1.0" stroke-linejoin="round"/>
<text x="656.61" y="180.8" font-size="10.6" textLength="6.6" lengthAdjust="spacingAndGlyphs" style="font-family:'Liberation Serif',serif;font-weight:normal;font-style:normal">R</text>
<path d="M671.1,175.5 L666.5,177.85 L671.1,180.2" fill="none" stroke="#1a1a1a" stroke-width="1.0" stroke-linejoin="round"/>
<text x="673.74" y="180.8" font-size="10.6" textLength="15.14" lengthAdjust="spacingAndGlyphs" style="font-family:'Liberation Serif',serif;font-weight:normal;font-style:normal">1.5</text>
<text x="689.11" y="180.8" font-size="10.6" textLength="6.7" lengthAdjust="spacingAndGlyphs" style="font-family:'Liberation Serif',serif;font-weight:normal;font-style:normal">R</text>
<text x="695.45" y="182" font-size="9" textLength="5" lengthAdjust="spacingAndGlyphs" style="font-family:'Liberation Serif',serif;font-weight:normal;font-style:italic">e</text>
<text x="633.06" y="308" font-size="10.6" textLength="33.64" lengthAdjust="spacingAndGlyphs" style="font-family:'Liberation Serif',serif;font-weight:normal;font-style:normal">Mg, Fe</text>
<text x="25.82" y="59.64" font-size="11" textLength="17.63" lengthAdjust="spacingAndGlyphs" style="font-family:'Liberation Serif',serif;font-weight:normal;font-style:normal">2%</text>
<text x="739.02" y="59.64" font-size="11" textLength="17.63" lengthAdjust="spacingAndGlyphs" style="font-family:'Liberation Serif',serif;font-weight:normal;font-style:normal">2%</text>
<text x="25.52" y="92.09" font-size="11" textLength="17.94" lengthAdjust="spacingAndGlyphs" style="font-family:'Liberation Serif',serif;font-weight:normal;font-style:normal">1%</text>
<text x="738.42" y="92.09" font-size="11" textLength="17.94" lengthAdjust="spacingAndGlyphs" style="font-family:'Liberation Serif',serif;font-weight:normal;font-style:normal">1%</text>
<text x="36.79" y="124.53" font-size="11" textLength="6.72" lengthAdjust="spacingAndGlyphs" style="font-family:'Liberation Serif',serif;font-weight:normal;font-style:normal">0</text>
<text x="739.09" y="124.53" font-size="11" textLength="6.72" lengthAdjust="spacingAndGlyphs" style="font-family:'Liberation Serif',serif;font-weight:normal;font-style:normal">0</text>
<text x="22.84" y="156.98" font-size="11" textLength="20.58" lengthAdjust="spacingAndGlyphs" style="font-family:'Liberation Serif',serif;font-weight:normal;font-style:normal">-1%</text>
<text x="739.14" y="156.98" font-size="11" textLength="20.58" lengthAdjust="spacingAndGlyphs" style="font-family:'Liberation Serif',serif;font-weight:normal;font-style:normal">-1%</text>
<text x="25.82" y="205.64" font-size="11" textLength="17.63" lengthAdjust="spacingAndGlyphs" style="font-family:'Liberation Serif',serif;font-weight:normal;font-style:normal">2%</text>
<text x="739.02" y="205.64" font-size="11" textLength="17.63" lengthAdjust="spacingAndGlyphs" style="font-family:'Liberation Serif',serif;font-weight:normal;font-style:normal">2%</text>
<text x="25.52" y="238.09" font-size="11" textLength="17.94" lengthAdjust="spacingAndGlyphs" style="font-family:'Liberation Serif',serif;font-weight:normal;font-style:normal">1%</text>
<text x="738.42" y="238.09" font-size="11" textLength="17.94" lengthAdjust="spacingAndGlyphs" style="font-family:'Liberation Serif',serif;font-weight:normal;font-style:normal">1%</text>
<text x="36.79" y="270.53" font-size="11" textLength="6.72" lengthAdjust="spacingAndGlyphs" style="font-family:'Liberation Serif',serif;font-weight:normal;font-style:normal">0</text>
<text x="739.09" y="270.53" font-size="11" textLength="6.72" lengthAdjust="spacingAndGlyphs" style="font-family:'Liberation Serif',serif;font-weight:normal;font-style:normal">0</text>
<text x="22.84" y="302.98" font-size="11" textLength="20.58" lengthAdjust="spacingAndGlyphs" style="font-family:'Liberation Serif',serif;font-weight:normal;font-style:normal">-1%</text>
<text x="739.14" y="302.98" font-size="11" textLength="20.58" lengthAdjust="spacingAndGlyphs" style="font-family:'Liberation Serif',serif;font-weight:normal;font-style:normal">-1%</text>
<g transform="translate(11.0,292.8) rotate(-90)">
<text x="-0.3" y="0" font-size="14.5" textLength="232.63" lengthAdjust="spacingAndGlyphs" style="font-family:'Liberation Serif',serif;font-weight:bold;font-style:normal">Difference in spectral features [f</text>
<text x="232.67" y="1.6" font-size="9.5" textLength="5.5" lengthAdjust="spacingAndGlyphs" style="font-family:'Liberation Serif',serif;font-weight:bold;font-style:normal">λ</text>
<text x="238.18" y="0" font-size="14.5" textLength="5.68" lengthAdjust="spacingAndGlyphs" style="font-family:'Liberation Serif',serif;font-weight:bold;font-style:normal">]</text>
</g>
<text x="345.47" y="352.2" font-size="14" textLength="90.6" lengthAdjust="spacingAndGlyphs" style="font-family:'Liberation Serif',serif;font-weight:bold;font-style:normal">Wavelength [</text>
<text x="438.06" y="352.2" font-size="12.5" textLength="10.27" lengthAdjust="spacingAndGlyphs" style="font-family:'Liberation Sans',serif;font-weight:normal;font-style:italic">Å</text>
<text x="448.09" y="352.2" font-size="14" textLength="6.58" lengthAdjust="spacingAndGlyphs" style="font-family:'Liberation Serif',serif;font-weight:bold;font-style:normal">]</text>
<rect x="165.4" y="44.4" width="90.2" height="22.6" rx="2" fill="#fff" fill-opacity="0.85" stroke="#d6d6d6" stroke-width="0.8"/>
<line x1="167.7" y1="50.2" x2="181.9" y2="50.2" stroke="#111" stroke-width="1.2"/>
<rect x="167.7" y="58.2" width="14.2" height="4.8" fill="#ff0000" fill-opacity="0.22" stroke="#ff0000" stroke-opacity="0.13" stroke-width="0.6"/>
<text x="186.71" y="53" font-size="7.6" textLength="66.29" lengthAdjust="spacingAndGlyphs" style="font-family:'Liberation Serif',serif;font-weight:normal;font-style:normal;fill:#333">Spectral difference</text>
<text x="187.06" y="62.4" font-size="7.6" textLength="58.44" lengthAdjust="spacingAndGlyphs" style="font-family:'Liberation Serif',serif;font-weight:normal;font-style:normal;fill:#333">Model difference</text>
<text x="80.75" y="13.2" font-size="14.8" textLength="13.87" lengthAdjust="spacingAndGlyphs" style="font-family:'Liberation Serif',serif;font-weight:bold;font-style:normal">M</text>
<line x1="98.5" y1="10.3" x2="98.5" y2="12.3" stroke="#555" stroke-width="0.75"/>
<line x1="98.5" y1="10.3" x2="96.77" y2="11.3" stroke="#555" stroke-width="0.75"/>
<line x1="98.5" y1="10.3" x2="96.77" y2="9.3" stroke="#555" stroke-width="0.75"/>
<line x1="98.5" y1="10.3" x2="98.5" y2="8.3" stroke="#555" stroke-width="0.75"/>
<line x1="98.5" y1="10.3" x2="100.23" y2="9.3" stroke="#555" stroke-width="0.75"/>
<line x1="98.5" y1="10.3" x2="100.23" y2="11.3" stroke="#555" stroke-width="0.75"/>
<rect x="104" y="5.8" width="8.1" height="1.65" fill="#1a1a1a"/>
<rect x="104" y="10.0" width="8.1" height="1.65" fill="#1a1a1a"/>
<text x="117.96" y="13.2" font-size="13.4" textLength="15.17" lengthAdjust="spacingAndGlyphs" style="font-family:'Liberation Sans',serif;font-weight:normal;font-style:normal">10</text>
<text x="134.55" y="8" font-size="8.8" textLength="19.06" lengthAdjust="spacingAndGlyphs" style="font-family:'Liberation Sans',serif;font-weight:normal;font-style:normal">10.5</text>
<rect x="160" y="7.9" width="6.8" height="1.2" fill="#1a1a1a"/>
<text x="170.3" y="13.2" font-size="13.4" textLength="16.06" lengthAdjust="spacingAndGlyphs" style="font-family:'Liberation Sans',serif;font-weight:normal;font-style:normal">10</text>
<text x="186.89" y="8" font-size="8.8" textLength="10.36" lengthAdjust="spacingAndGlyphs" style="font-family:'Liberation Sans',serif;font-weight:normal;font-style:normal">11</text>
<text x="202.96" y="13.2" font-size="14.8" textLength="13.24" lengthAdjust="spacingAndGlyphs" style="font-family:'Liberation Serif',serif;font-weight:bold;font-style:normal">M</text>
<circle cx="220.55" cy="11.7" r="2.6" fill="none" stroke="#222" stroke-width="0.85"/>
<circle cx="220.55" cy="11.7" r="0.65" fill="#222"/>
<text x="318.76" y="13.2" font-size="14.8" textLength="13.45" lengthAdjust="spacingAndGlyphs" style="font-family:'Liberation Serif',serif;font-weight:bold;font-style:normal">M</text>
<line x1="336.6" y1="10.3" x2="336.6" y2="12.3" stroke="#555" stroke-width="0.75"/>
<line x1="336.6" y1="10.3" x2="334.87" y2="11.3" stroke="#555" stroke-width="0.75"/>
<line x1="336.6" y1="10.3" x2="334.87" y2="9.3" stroke="#555" stroke-width="0.75"/>
<line x1="336.6" y1="10.3" x2="336.6" y2="8.3" stroke="#555" stroke-width="0.75"/>
<line x1="336.6" y1="10.3" x2="338.33" y2="9.3" stroke="#555" stroke-width="0.75"/>
<line x1="336.6" y1="10.3" x2="338.33" y2="11.3" stroke="#555" stroke-width="0.75"/>
<rect x="341.8" y="5.8" width="8.5" height="1.65" fill="#1a1a1a"/>
<rect x="341.8" y="10.0" width="8.5" height="1.65" fill="#1a1a1a"/>
<text x="355.52" y="13.2" font-size="13.4" textLength="15.84" lengthAdjust="spacingAndGlyphs" style="font-family:'Liberation Sans',serif;font-weight:normal;font-style:normal">10</text>
<text x="372.71" y="8" font-size="8.8" textLength="10.14" lengthAdjust="spacingAndGlyphs" style="font-family:'Liberation Sans',serif;font-weight:normal;font-style:normal">11</text>
<rect x="388.2" y="7.9" width="7.6" height="1.2" fill="#1a1a1a"/>
<text x="399.33" y="13.2" font-size="13.4" textLength="17.07" lengthAdjust="spacingAndGlyphs" style="font-family:'Liberation Sans',serif;font-weight:normal;font-style:normal">10</text>
<text x="416.03" y="8" font-size="8.8" textLength="19.7" lengthAdjust="spacingAndGlyphs" style="font-family:'Liberation Sans',serif;font-weight:normal;font-style:normal">11.5</text>
<text x="440.75" y="13.2" font-size="14.8" textLength="13.87" lengthAdjust="spacingAndGlyphs" style="font-family:'Liberation Serif',serif;font-weight:bold;font-style:normal">M</text>
<circle cx="458.7" cy="11.7" r="2.6" fill="none" stroke="#222" stroke-width="0.85"/>
<circle cx="458.7" cy="11.7" r="0.65" fill="#222"/>
<text x="556.96" y="13.2" font-size="14.8" textLength="13.45" lengthAdjust="spacingAndGlyphs" style="font-family:'Liberation Serif',serif;font-weight:bold;font-style:normal">M</text>
<line x1="574.7" y1="10.3" x2="574.7" y2="12.3" stroke="#555" stroke-width="0.75"/>
<line x1="574.7" y1="10.3" x2="572.97" y2="11.3" stroke="#555" stroke-width="0.75"/>
<line x1="574.7" y1="10.3" x2="572.97" y2="9.3" stroke="#555" stroke-width="0.75"/>
<line x1="574.7" y1="10.3" x2="574.7" y2="8.3" stroke="#555" stroke-width="0.75"/>
<line x1="574.7" y1="10.3" x2="576.43" y2="9.3" stroke="#555" stroke-width="0.75"/>
<line x1="574.7" y1="10.3" x2="576.43" y2="11.3" stroke="#555" stroke-width="0.75"/>
<rect x="580" y="5.8" width="8.4" height="1.65" fill="#1a1a1a"/>
<rect x="580" y="10.0" width="8.4" height="1.65" fill="#1a1a1a"/>
<text x="593.61" y="13.2" font-size="13.4" textLength="15.95" lengthAdjust="spacingAndGlyphs" style="font-family:'Liberation Sans',serif;font-weight:normal;font-style:normal">10</text>
<text x="610.22" y="8" font-size="8.8" textLength="19.91" lengthAdjust="spacingAndGlyphs" style="font-family:'Liberation Sans',serif;font-weight:normal;font-style:normal">11.5</text>
<rect x="634.5" y="7.9" width="7.9" height="1.2" fill="#1a1a1a"/>
<text x="646.47" y="13.2" font-size="13.4" textLength="16.51" lengthAdjust="spacingAndGlyphs" style="font-family:'Liberation Sans',serif;font-weight:normal;font-style:normal">10</text>
<text x="662.67" y="8" font-size="8.8" textLength="10.72" lengthAdjust="spacingAndGlyphs" style="font-family:'Liberation Sans',serif;font-weight:normal;font-style:normal">12</text>
<text x="678.95" y="13.2" font-size="14.8" textLength="13.87" lengthAdjust="spacingAndGlyphs" style="font-family:'Liberation Serif',serif;font-weight:bold;font-style:normal">M</text>
<circle cx="696.55" cy="11.7" r="2.6" fill="none" stroke="#222" stroke-width="0.85"/>
<circle cx="696.55" cy="11.7" r="0.65" fill="#222"/>
</svg></body></html>
